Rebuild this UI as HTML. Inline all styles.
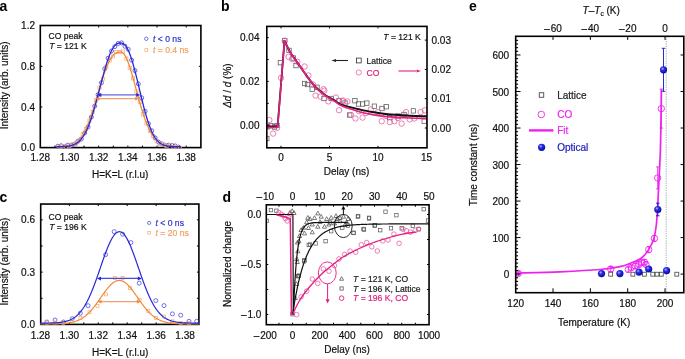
<!DOCTYPE html>
<html><head><meta charset="utf-8"><style>
html,body{margin:0;padding:0;background:#fff;}
svg{display:block;font-family:"Liberation Sans", sans-serif;filter:blur(0.3px);}
</style></head><body>
<svg width="685" height="359" viewBox="0 0 685 359">
<rect width="685" height="359" fill="#fff"/>
<rect x="40.3" y="25.5" width="160.6" height="122.1" fill="none" stroke="#000" stroke-width="1.6"/>
<line x1="54.89" y1="147.6" x2="54.89" y2="145.6" stroke="#000" stroke-width="1.0" />
<line x1="69.48" y1="147.6" x2="69.48" y2="145.6" stroke="#000" stroke-width="1.0" />
<line x1="84.07" y1="147.6" x2="84.07" y2="145.6" stroke="#000" stroke-width="1.0" />
<line x1="98.66" y1="147.6" x2="98.66" y2="145.6" stroke="#000" stroke-width="1.0" />
<line x1="113.25" y1="147.6" x2="113.25" y2="145.6" stroke="#000" stroke-width="1.0" />
<line x1="127.84" y1="147.6" x2="127.84" y2="145.6" stroke="#000" stroke-width="1.0" />
<line x1="142.43" y1="147.6" x2="142.43" y2="145.6" stroke="#000" stroke-width="1.0" />
<line x1="157.02" y1="147.6" x2="157.02" y2="145.6" stroke="#000" stroke-width="1.0" />
<line x1="171.61" y1="147.6" x2="171.61" y2="145.6" stroke="#000" stroke-width="1.0" />
<line x1="186.2" y1="147.6" x2="186.2" y2="145.6" stroke="#000" stroke-width="1.0" />
<line x1="69.48" y1="25.5" x2="69.48" y2="27.5" stroke="#000" stroke-width="1.0" />
<line x1="98.66" y1="25.5" x2="98.66" y2="27.5" stroke="#000" stroke-width="1.0" />
<line x1="127.84" y1="25.5" x2="127.84" y2="27.5" stroke="#000" stroke-width="1.0" />
<line x1="157.02" y1="25.5" x2="157.02" y2="27.5" stroke="#000" stroke-width="1.0" />
<line x1="186.2" y1="25.5" x2="186.2" y2="27.5" stroke="#000" stroke-width="1.0" />
<line x1="40.3" y1="106.96" x2="42.3" y2="106.96" stroke="#000" stroke-width="1.0" />
<line x1="40.3" y1="66.32" x2="42.3" y2="66.32" stroke="#000" stroke-width="1.0" />
<line x1="200.9" y1="106.96" x2="198.9" y2="106.96" stroke="#000" stroke-width="1.0" />
<line x1="200.9" y1="66.32" x2="198.9" y2="66.32" stroke="#000" stroke-width="1.0" />
<clipPath id="cp1"><rect x="39.3" y="24.5" width="162.6" height="124.1"/></clipPath><g clip-path="url(#cp1)">
<circle cx="57.81" cy="146.24" r="2" fill="none" stroke="#2828d8" stroke-width="0.7"/>
<circle cx="61.16" cy="145.76" r="2" fill="none" stroke="#2828d8" stroke-width="0.7"/>
<circle cx="64.52" cy="146.82" r="2" fill="none" stroke="#2828d8" stroke-width="0.7"/>
<circle cx="67.88" cy="145.12" r="2" fill="none" stroke="#2828d8" stroke-width="0.7"/>
<circle cx="71.23" cy="145.61" r="2" fill="none" stroke="#2828d8" stroke-width="0.7"/>
<circle cx="74.59" cy="144.03" r="2" fill="none" stroke="#2828d8" stroke-width="0.7"/>
<circle cx="77.94" cy="141.26" r="2" fill="none" stroke="#2828d8" stroke-width="0.7"/>
<circle cx="81.3" cy="139.05" r="2" fill="none" stroke="#2828d8" stroke-width="0.7"/>
<circle cx="84.65" cy="132.98" r="2" fill="none" stroke="#2828d8" stroke-width="0.7"/>
<circle cx="88.01" cy="126.99" r="2" fill="none" stroke="#2828d8" stroke-width="0.7"/>
<circle cx="91.36" cy="117.07" r="2" fill="none" stroke="#2828d8" stroke-width="0.7"/>
<circle cx="94.72" cy="106.14" r="2" fill="none" stroke="#2828d8" stroke-width="0.7"/>
<circle cx="98.08" cy="94.57" r="2" fill="none" stroke="#2828d8" stroke-width="0.7"/>
<circle cx="101.43" cy="82.66" r="2" fill="none" stroke="#2828d8" stroke-width="0.7"/>
<circle cx="104.79" cy="68.66" r="2" fill="none" stroke="#2828d8" stroke-width="0.7"/>
<circle cx="108.14" cy="58.23" r="2" fill="none" stroke="#2828d8" stroke-width="0.7"/>
<circle cx="111.5" cy="51.05" r="2" fill="none" stroke="#2828d8" stroke-width="0.7"/>
<circle cx="114.85" cy="46.63" r="2" fill="none" stroke="#2828d8" stroke-width="0.7"/>
<circle cx="118.21" cy="43.45" r="2" fill="none" stroke="#2828d8" stroke-width="0.7"/>
<circle cx="121.57" cy="42.85" r="2" fill="none" stroke="#2828d8" stroke-width="0.7"/>
<circle cx="124.92" cy="46.25" r="2" fill="none" stroke="#2828d8" stroke-width="0.7"/>
<circle cx="128.28" cy="49.36" r="2" fill="none" stroke="#2828d8" stroke-width="0.7"/>
<circle cx="131.63" cy="60.16" r="2" fill="none" stroke="#2828d8" stroke-width="0.7"/>
<circle cx="134.99" cy="70.59" r="2" fill="none" stroke="#2828d8" stroke-width="0.7"/>
<circle cx="138.34" cy="83.84" r="2" fill="none" stroke="#2828d8" stroke-width="0.7"/>
<circle cx="141.7" cy="97.79" r="2" fill="none" stroke="#2828d8" stroke-width="0.7"/>
<circle cx="145.06" cy="111.31" r="2" fill="none" stroke="#2828d8" stroke-width="0.7"/>
<circle cx="148.41" cy="123.63" r="2" fill="none" stroke="#2828d8" stroke-width="0.7"/>
<circle cx="151.77" cy="130.75" r="2" fill="none" stroke="#2828d8" stroke-width="0.7"/>
<circle cx="155.12" cy="137.89" r="2" fill="none" stroke="#2828d8" stroke-width="0.7"/>
<circle cx="158.48" cy="142.07" r="2" fill="none" stroke="#2828d8" stroke-width="0.7"/>
<circle cx="161.83" cy="143.86" r="2" fill="none" stroke="#2828d8" stroke-width="0.7"/>
<circle cx="165.19" cy="145.62" r="2" fill="none" stroke="#2828d8" stroke-width="0.7"/>
<circle cx="168.55" cy="145.13" r="2" fill="none" stroke="#2828d8" stroke-width="0.7"/>
<circle cx="171.9" cy="145.43" r="2" fill="none" stroke="#2828d8" stroke-width="0.7"/>
<circle cx="175.26" cy="145.92" r="2" fill="none" stroke="#2828d8" stroke-width="0.7"/>
<circle cx="178.61" cy="147.11" r="2" fill="none" stroke="#2828d8" stroke-width="0.7"/>
<rect x="57.67" y="145.01" width="3.2" height="3.2" fill="none" stroke="#f4a86a" stroke-width="0.7"/>
<rect x="61.02" y="144.54" width="3.2" height="3.2" fill="none" stroke="#f4a86a" stroke-width="0.7"/>
<rect x="64.38" y="145.09" width="3.2" height="3.2" fill="none" stroke="#f4a86a" stroke-width="0.7"/>
<rect x="67.73" y="144.12" width="3.2" height="3.2" fill="none" stroke="#f4a86a" stroke-width="0.7"/>
<rect x="71.09" y="142.59" width="3.2" height="3.2" fill="none" stroke="#f4a86a" stroke-width="0.7"/>
<rect x="74.45" y="142.19" width="3.2" height="3.2" fill="none" stroke="#f4a86a" stroke-width="0.7"/>
<rect x="77.8" y="138.85" width="3.2" height="3.2" fill="none" stroke="#f4a86a" stroke-width="0.7"/>
<rect x="81.16" y="132.89" width="3.2" height="3.2" fill="none" stroke="#f4a86a" stroke-width="0.7"/>
<rect x="84.51" y="127.48" width="3.2" height="3.2" fill="none" stroke="#f4a86a" stroke-width="0.7"/>
<rect x="87.87" y="119.06" width="3.2" height="3.2" fill="none" stroke="#f4a86a" stroke-width="0.7"/>
<rect x="91.22" y="110.18" width="3.2" height="3.2" fill="none" stroke="#f4a86a" stroke-width="0.7"/>
<rect x="94.58" y="98.71" width="3.2" height="3.2" fill="none" stroke="#f4a86a" stroke-width="0.7"/>
<rect x="97.94" y="86" width="3.2" height="3.2" fill="none" stroke="#f4a86a" stroke-width="0.7"/>
<rect x="101.29" y="77.26" width="3.2" height="3.2" fill="none" stroke="#f4a86a" stroke-width="0.7"/>
<rect x="104.65" y="65.27" width="3.2" height="3.2" fill="none" stroke="#f4a86a" stroke-width="0.7"/>
<rect x="108" y="58.82" width="3.2" height="3.2" fill="none" stroke="#f4a86a" stroke-width="0.7"/>
<rect x="111.36" y="54.83" width="3.2" height="3.2" fill="none" stroke="#f4a86a" stroke-width="0.7"/>
<rect x="114.71" y="50.29" width="3.2" height="3.2" fill="none" stroke="#f4a86a" stroke-width="0.7"/>
<rect x="118.07" y="50.4" width="3.2" height="3.2" fill="none" stroke="#f4a86a" stroke-width="0.7"/>
<rect x="121.43" y="49.95" width="3.2" height="3.2" fill="none" stroke="#f4a86a" stroke-width="0.7"/>
<rect x="124.78" y="57.01" width="3.2" height="3.2" fill="none" stroke="#f4a86a" stroke-width="0.7"/>
<rect x="128.14" y="66.12" width="3.2" height="3.2" fill="none" stroke="#f4a86a" stroke-width="0.7"/>
<rect x="131.49" y="76.79" width="3.2" height="3.2" fill="none" stroke="#f4a86a" stroke-width="0.7"/>
<rect x="134.85" y="90.01" width="3.2" height="3.2" fill="none" stroke="#f4a86a" stroke-width="0.7"/>
<rect x="138.2" y="100.5" width="3.2" height="3.2" fill="none" stroke="#f4a86a" stroke-width="0.7"/>
<rect x="141.56" y="112.71" width="3.2" height="3.2" fill="none" stroke="#f4a86a" stroke-width="0.7"/>
<rect x="144.92" y="121.8" width="3.2" height="3.2" fill="none" stroke="#f4a86a" stroke-width="0.7"/>
<rect x="148.27" y="129.23" width="3.2" height="3.2" fill="none" stroke="#f4a86a" stroke-width="0.7"/>
<rect x="151.63" y="134.46" width="3.2" height="3.2" fill="none" stroke="#f4a86a" stroke-width="0.7"/>
<rect x="154.98" y="139.59" width="3.2" height="3.2" fill="none" stroke="#f4a86a" stroke-width="0.7"/>
<rect x="158.34" y="142.59" width="3.2" height="3.2" fill="none" stroke="#f4a86a" stroke-width="0.7"/>
<rect x="161.69" y="142.89" width="3.2" height="3.2" fill="none" stroke="#f4a86a" stroke-width="0.7"/>
<rect x="165.05" y="144.51" width="3.2" height="3.2" fill="none" stroke="#f4a86a" stroke-width="0.7"/>
<rect x="168.41" y="143.3" width="3.2" height="3.2" fill="none" stroke="#f4a86a" stroke-width="0.7"/>
<rect x="171.76" y="145.56" width="3.2" height="3.2" fill="none" stroke="#f4a86a" stroke-width="0.7"/>
<rect x="175.12" y="145.57" width="3.2" height="3.2" fill="none" stroke="#f4a86a" stroke-width="0.7"/>
<rect x="178.47" y="146.7" width="3.2" height="3.2" fill="none" stroke="#f4a86a" stroke-width="0.7"/>
<polyline points="57,146.86 57.5,146.85 58,146.85 58.5,146.84 59,146.83 59.5,146.82 60,146.8 60.5,146.79 61,146.77 61.5,146.75 62,146.73 62.5,146.71 63,146.68 63.5,146.65 64,146.61 64.5,146.57 65,146.53 65.5,146.48 66,146.43 66.5,146.36 67,146.3 67.5,146.22 68,146.14 68.5,146.04 69,145.94 69.5,145.83 70,145.7 70.5,145.56 71,145.41 71.5,145.25 72,145.07 72.5,144.87 73,144.66 73.5,144.42 74,144.17 74.5,143.9 75,143.6 75.5,143.28 76,142.94 76.5,142.57 77,142.17 77.5,141.75 78,141.29 78.5,140.81 79,140.29 79.5,139.74 80,139.15 80.5,138.53 81,137.87 81.5,137.18 82,136.44 82.5,135.67 83,134.85 83.5,134 84,133.1 84.5,132.16 85,131.18 85.5,130.16 86,129.1 86.5,127.99 87,126.84 87.5,125.65 88,124.42 88.5,123.15 89,121.84 89.5,120.49 90,119.11 90.5,117.69 91,116.23 91.5,114.74 92,113.22 92.5,111.68 93,110.1 93.5,108.5 94,106.88 94.5,105.24 95,103.58 95.5,101.91 96,100.22 96.5,98.53 97,96.83 97.5,95.13 98,93.43 98.5,91.73 99,90.04 99.5,88.36 100,86.69 100.5,85.03 101,83.39 101.5,81.78 102,80.19 102.5,78.62 103,77.09 103.5,75.59 104,74.12 104.5,72.69 105,71.3 105.5,69.95 106,68.65 106.5,67.39 107,66.17 107.5,65.01 108,63.89 108.5,62.83 109,61.82 109.5,60.86 110,59.95 110.5,59.09 111,58.29 111.5,57.54 112,56.85 112.5,56.2 113,55.61 113.5,55.07 114,54.59 114.5,54.15 115,53.75 115.5,53.41 116,53.11 116.5,52.85 117,52.63 117.5,52.45 118,52.3 118.5,52.19 119,52.11 119.5,52.05 120,52.02 120.5,52 121,52 121.5,52.06 122,52.24 122.5,52.52 123,52.91 123.5,53.41 124,54 124.5,54.69 125,55.48 125.5,56.35 126,57.32 126.5,58.37 127,59.49 127.5,60.7 128,61.98 128.5,63.33 129,64.74 129.5,66.21 130,67.74 130.5,69.32 131,70.95 131.5,72.62 132,74.33 132.5,76.07 133,77.84 133.5,79.63 134,81.45 134.5,83.28 135,85.12 135.5,86.97 136,88.83 136.5,90.68 137,92.53 137.5,94.37 138,96.2 138.5,98.01 139,99.81 139.5,101.59 140,103.34 140.5,105.07 141,106.77 141.5,108.44 142,110.07 142.5,111.67 143,113.24 143.5,114.76 144,116.25 144.5,117.7 145,119.11 145.5,120.47 146,121.8 146.5,123.08 147,124.31 147.5,125.51 148,126.66 148.5,127.77 149,128.83 149.5,129.86 150,130.84 150.5,131.77 151,132.67 151.5,133.53 152,134.35 152.5,135.13 153,135.87 153.5,136.57 154,137.24 154.5,137.88 155,138.48 155.5,139.05 156,139.59 156.5,140.09 157,140.57 157.5,141.02 158,141.45 158.5,141.84 159,142.22 159.5,142.57 160,142.89 160.5,143.2 161,143.49 161.5,143.75 162,144 162.5,144.24 163,144.45 163.5,144.65 164,144.84 164.5,145.01 165,145.17 165.5,145.32 166,145.45 166.5,145.58 167,145.7 167.5,145.8 168,145.9 168.5,145.99 169,146.07 169.5,146.15 170,146.22 170.5,146.28 171,146.34 171.5,146.4 172,146.45 172.5,146.49 173,146.53 173.5,146.57 174,146.6 174.5,146.63 175,146.66 175.5,146.68 176,146.71 176.5,146.73 177,146.74 177.5,146.76 178,146.78 178.5,146.79 179,146.8 179.5,146.81 180,146.82 180.5,146.83" fill="none" stroke="#f0893a" stroke-width="1.3" stroke-linejoin="round" stroke-linecap="round" />
<polyline points="57,146.67 57.5,146.67 58,146.66 58.5,146.65 59,146.65 59.5,146.64 60,146.63 60.5,146.62 61,146.6 61.5,146.59 62,146.57 62.5,146.56 63,146.54 63.5,146.51 64,146.49 64.5,146.46 65,146.42 65.5,146.39 66,146.35 66.5,146.3 67,146.25 67.5,146.19 68,146.13 68.5,146.06 69,145.98 69.5,145.89 70,145.8 70.5,145.69 71,145.58 71.5,145.45 72,145.31 72.5,145.16 73,144.99 73.5,144.81 74,144.61 74.5,144.39 75,144.15 75.5,143.9 76,143.62 76.5,143.32 77,143 77.5,142.65 78,142.27 78.5,141.87 79,141.44 79.5,140.97 80,140.48 80.5,139.95 81,139.39 81.5,138.78 82,138.15 82.5,137.47 83,136.75 83.5,136 84,135.2 84.5,134.35 85,133.47 85.5,132.53 86,131.55 86.5,130.53 87,129.46 87.5,128.34 88,127.17 88.5,125.96 89,124.7 89.5,123.39 90,122.03 90.5,120.63 91,119.18 91.5,117.69 92,116.16 92.5,114.58 93,112.97 93.5,111.31 94,109.62 94.5,107.89 95,106.13 95.5,104.34 96,102.52 96.5,100.68 97,98.82 97.5,96.94 98,95.04 98.5,93.13 99,91.21 99.5,89.29 100,87.36 100.5,85.44 101,83.52 101.5,81.61 102,79.72 102.5,77.84 103,75.98 103.5,74.15 104,72.34 104.5,70.57 105,68.83 105.5,67.13 106,65.47 106.5,63.85 107,62.29 107.5,60.77 108,59.31 108.5,57.9 109,56.55 109.5,55.26 110,54.03 110.5,52.87 111,51.77 111.5,50.74 112,49.77 112.5,48.87 113,48.04 113.5,47.28 114,46.58 114.5,45.96 115,45.39 115.5,44.9 116,44.47 116.5,44.09 117,43.78 117.5,43.53 118,43.33 118.5,43.19 119,43.08 119.5,43.03 120,43 120.5,43 121,43.03 121.5,43.09 122,43.2 122.5,43.37 123,43.6 123.5,43.89 124,44.25 124.5,44.69 125,45.19 125.5,45.77 126,46.43 126.5,47.17 127,47.99 127.5,48.89 128,49.87 128.5,50.93 129,52.06 129.5,53.28 130,54.57 130.5,55.94 131,57.37 131.5,58.88 132,60.46 132.5,62.1 133,63.8 133.5,65.56 134,67.37 134.5,69.23 135,71.13 135.5,73.08 136,75.06 136.5,77.07 137,79.11 137.5,81.18 138,83.26 138.5,85.35 139,87.45 139.5,89.55 140,91.65 140.5,93.74 141,95.82 141.5,97.88 142,99.93 142.5,101.95 143,103.94 143.5,105.9 144,107.83 144.5,109.72 145,111.56 145.5,113.36 146,115.12 146.5,116.83 147,118.48 147.5,120.09 148,121.64 148.5,123.13 149,124.57 149.5,125.96 150,127.28 150.5,128.55 151,129.76 151.5,130.92 152,132.02 152.5,133.07 153,134.06 153.5,135 154,135.88 154.5,136.72 155,137.5 155.5,138.24 156,138.93 156.5,139.58 157,140.18 157.5,140.74 158,141.27 158.5,141.75 159,142.2 159.5,142.62 160,143 160.5,143.35 161,143.68 161.5,143.98 162,144.25 162.5,144.5 163,144.73 163.5,144.93 164,145.12 164.5,145.29 165,145.45 165.5,145.59 166,145.71 166.5,145.83 167,145.93 167.5,146.02 168,146.1 168.5,146.17 169,146.24 169.5,146.29 170,146.35 170.5,146.39 171,146.43 171.5,146.47 172,146.5 172.5,146.52 173,146.55 173.5,146.57 174,146.59 174.5,146.6 175,146.62 175.5,146.63 176,146.64 176.5,146.65 177,146.66 177.5,146.66 178,146.67 178.5,146.67 179,146.68 179.5,146.68 180,146.68 180.5,146.69" fill="none" stroke="#2828d8" stroke-width="1.3" stroke-linejoin="round" stroke-linecap="round" />
<line x1="99.5" y1="94.9" x2="138" y2="94.9" stroke="#6464e6" stroke-width="1.3" />
<polygon points="97.3,94.9 101.3,92.9 101.3,96.9" fill="#2828d8" stroke="none"/>
<polygon points="140.2,94.9 136.2,96.9 136.2,92.9" fill="#2828d8" stroke="none"/>
<line x1="97.8" y1="98.6" x2="137" y2="98.6" stroke="#f2a070" stroke-width="1.3" />
<polygon points="95.4,98.6 99.4,96.7 99.4,100.5" fill="#f0893a" stroke="none"/>
<polygon points="139.2,98.6 135.2,100.5 135.2,96.7" fill="#f0893a" stroke="none"/>
</g>
<text x="35" y="151.2" font-size="10" text-anchor="end" fill="#111" stroke="#111" stroke-width="0.2" font-weight="normal" >0.0</text>
<text x="35" y="110.56" font-size="10" text-anchor="end" fill="#111" stroke="#111" stroke-width="0.2" font-weight="normal" >0.4</text>
<text x="35" y="69.92" font-size="10" text-anchor="end" fill="#111" stroke="#111" stroke-width="0.2" font-weight="normal" >0.8</text>
<text x="35" y="29.28" font-size="10" text-anchor="end" fill="#111" stroke="#111" stroke-width="0.2" font-weight="normal" >1.2</text>
<text x="40.3" y="161.2" font-size="10" text-anchor="middle" fill="#111" stroke="#111" stroke-width="0.2" font-weight="normal" >1.28</text>
<text x="69.48" y="161.2" font-size="10" text-anchor="middle" fill="#111" stroke="#111" stroke-width="0.2" font-weight="normal" >1.30</text>
<text x="98.66" y="161.2" font-size="10" text-anchor="middle" fill="#111" stroke="#111" stroke-width="0.2" font-weight="normal" >1.32</text>
<text x="127.84" y="161.2" font-size="10" text-anchor="middle" fill="#111" stroke="#111" stroke-width="0.2" font-weight="normal" >1.34</text>
<text x="157.02" y="161.2" font-size="10" text-anchor="middle" fill="#111" stroke="#111" stroke-width="0.2" font-weight="normal" >1.36</text>
<text x="186.2" y="161.2" font-size="10" text-anchor="middle" fill="#111" stroke="#111" stroke-width="0.2" font-weight="normal" >1.38</text>
<text x="120.2" y="178.1" font-size="10" text-anchor="middle" fill="#111" stroke="#111" stroke-width="0.2" font-weight="normal" >H=K=L (r.l.u)</text>
<text transform="translate(7.8,85.4) rotate(-90)" font-size="10" text-anchor="middle" fill="#111" stroke="#111" stroke-width="0.2">Intensity (arb. units)</text>
<text x="48.6" y="39" font-size="8.6" text-anchor="start" fill="#111" stroke="#111" stroke-width="0.2" font-weight="normal" >CO peak</text>
<text x="49.2" y="49.1" font-size="8.6" text-anchor="start" fill="#111" stroke="#111" stroke-width="0.2" font-weight="normal" ><tspan font-style="italic">T</tspan> = 121 K</text>
<circle cx="146.3" cy="38.8" r="1.7" fill="none" stroke="#5050d8" stroke-width="0.8"/>
<text x="153" y="41.6" font-size="8.6" text-anchor="start" fill="#3030cc" stroke="#3030cc" stroke-width="0.2" font-weight="normal" ><tspan font-style="italic">t</tspan> &lt; 0 ns</text>
<rect x="144.95" y="48.65" width="2.7" height="2.7" fill="none" stroke="#f4a86a" stroke-width="0.7"/>
<text x="153" y="52.9" font-size="8.6" text-anchor="start" fill="#f0a060" stroke="#f0a060" stroke-width="0.2" font-weight="normal" ><tspan font-style="italic">t</tspan> = 0.4 ns</text>
<text x="-0.6" y="10.5" font-size="14" text-anchor="start" fill="#000" stroke="#000" stroke-width="0" font-weight="bold" >a</text>
<rect x="40.7" y="204.05" width="158.2" height="120.35" fill="none" stroke="#000" stroke-width="1.6"/>
<line x1="54.87" y1="324.4" x2="54.87" y2="322.4" stroke="#000" stroke-width="1.0" />
<line x1="69.34" y1="324.4" x2="69.34" y2="322.4" stroke="#000" stroke-width="1.0" />
<line x1="83.81" y1="324.4" x2="83.81" y2="322.4" stroke="#000" stroke-width="1.0" />
<line x1="98.28" y1="324.4" x2="98.28" y2="322.4" stroke="#000" stroke-width="1.0" />
<line x1="112.75" y1="324.4" x2="112.75" y2="322.4" stroke="#000" stroke-width="1.0" />
<line x1="127.22" y1="324.4" x2="127.22" y2="322.4" stroke="#000" stroke-width="1.0" />
<line x1="141.69" y1="324.4" x2="141.69" y2="322.4" stroke="#000" stroke-width="1.0" />
<line x1="156.16" y1="324.4" x2="156.16" y2="322.4" stroke="#000" stroke-width="1.0" />
<line x1="170.63" y1="324.4" x2="170.63" y2="322.4" stroke="#000" stroke-width="1.0" />
<line x1="185.1" y1="324.4" x2="185.1" y2="322.4" stroke="#000" stroke-width="1.0" />
<line x1="69.34" y1="204.05" x2="69.34" y2="206.05" stroke="#000" stroke-width="1.0" />
<line x1="98.28" y1="204.05" x2="98.28" y2="206.05" stroke="#000" stroke-width="1.0" />
<line x1="127.22" y1="204.05" x2="127.22" y2="206.05" stroke="#000" stroke-width="1.0" />
<line x1="156.16" y1="204.05" x2="156.16" y2="206.05" stroke="#000" stroke-width="1.0" />
<line x1="185.1" y1="204.05" x2="185.1" y2="206.05" stroke="#000" stroke-width="1.0" />
<line x1="40.7" y1="298.25" x2="42.7" y2="298.25" stroke="#000" stroke-width="1.0" />
<line x1="40.7" y1="272.11" x2="42.7" y2="272.11" stroke="#000" stroke-width="1.0" />
<line x1="40.7" y1="245.96" x2="42.7" y2="245.96" stroke="#000" stroke-width="1.0" />
<line x1="40.7" y1="219.82" x2="42.7" y2="219.82" stroke="#000" stroke-width="1.0" />
<line x1="198.9" y1="298.25" x2="196.9" y2="298.25" stroke="#000" stroke-width="1.0" />
<line x1="198.9" y1="272.11" x2="196.9" y2="272.11" stroke="#000" stroke-width="1.0" />
<line x1="198.9" y1="245.96" x2="196.9" y2="245.96" stroke="#000" stroke-width="1.0" />
<line x1="198.9" y1="219.82" x2="196.9" y2="219.82" stroke="#000" stroke-width="1.0" />
<clipPath id="cp2"><rect x="39.7" y="203.05" width="159.2" height="122.35"/></clipPath><g clip-path="url(#cp2)">
<circle cx="46.8" cy="322" r="2" fill="none" stroke="#3a3ad8" stroke-width="0.7"/>
<circle cx="55" cy="320" r="2" fill="none" stroke="#3a3ad8" stroke-width="0.7"/>
<circle cx="63.4" cy="322" r="2" fill="none" stroke="#3a3ad8" stroke-width="0.7"/>
<circle cx="72.2" cy="318.7" r="2" fill="none" stroke="#3a3ad8" stroke-width="0.7"/>
<circle cx="80.4" cy="313.2" r="2" fill="none" stroke="#3a3ad8" stroke-width="0.7"/>
<circle cx="88.1" cy="305.7" r="2" fill="none" stroke="#3a3ad8" stroke-width="0.7"/>
<circle cx="105.6" cy="254.6" r="2" fill="none" stroke="#3a3ad8" stroke-width="0.7"/>
<circle cx="114.2" cy="231.7" r="2" fill="none" stroke="#3a3ad8" stroke-width="0.7"/>
<circle cx="122.6" cy="234.2" r="2" fill="none" stroke="#3a3ad8" stroke-width="0.7"/>
<circle cx="130.9" cy="242.5" r="2" fill="none" stroke="#3a3ad8" stroke-width="0.7"/>
<circle cx="139.2" cy="283.2" r="2" fill="none" stroke="#3a3ad8" stroke-width="0.7"/>
<circle cx="155.8" cy="300.6" r="2" fill="none" stroke="#3a3ad8" stroke-width="0.7"/>
<circle cx="164" cy="305.6" r="2" fill="none" stroke="#3a3ad8" stroke-width="0.7"/>
<circle cx="172.4" cy="313.9" r="2" fill="none" stroke="#3a3ad8" stroke-width="0.7"/>
<circle cx="180.7" cy="315.2" r="2" fill="none" stroke="#3a3ad8" stroke-width="0.7"/>
<circle cx="189" cy="321.3" r="2" fill="none" stroke="#3a3ad8" stroke-width="0.7"/>
<circle cx="196.7" cy="321.3" r="2" fill="none" stroke="#3a3ad8" stroke-width="0.7"/>
<rect x="45.3" y="321.3" width="3" height="3" fill="none" stroke="#f4a86a" stroke-width="0.7"/>
<rect x="53.5" y="321" width="3" height="3" fill="none" stroke="#f4a86a" stroke-width="0.7"/>
<rect x="61.9" y="321.5" width="3" height="3" fill="none" stroke="#f4a86a" stroke-width="0.7"/>
<rect x="70.7" y="320" width="3" height="3" fill="none" stroke="#f4a86a" stroke-width="0.7"/>
<rect x="78.9" y="316.5" width="3" height="3" fill="none" stroke="#f4a86a" stroke-width="0.7"/>
<rect x="88" y="310.8" width="3" height="3" fill="none" stroke="#f4a86a" stroke-width="0.7"/>
<rect x="96" y="304.5" width="3" height="3" fill="none" stroke="#f4a86a" stroke-width="0.7"/>
<rect x="104.5" y="292.9" width="3" height="3" fill="none" stroke="#f4a86a" stroke-width="0.7"/>
<rect x="113.5" y="276.5" width="3" height="3" fill="none" stroke="#f4a86a" stroke-width="0.7"/>
<rect x="121.1" y="276.5" width="3" height="3" fill="none" stroke="#f4a86a" stroke-width="0.7"/>
<rect x="128.5" y="286.5" width="3" height="3" fill="none" stroke="#f4a86a" stroke-width="0.7"/>
<rect x="138" y="298.5" width="3" height="3" fill="none" stroke="#f4a86a" stroke-width="0.7"/>
<rect x="146.8" y="309.5" width="3" height="3" fill="none" stroke="#f4a86a" stroke-width="0.7"/>
<rect x="154.5" y="316.5" width="3" height="3" fill="none" stroke="#f4a86a" stroke-width="0.7"/>
<rect x="162.5" y="315.1" width="3" height="3" fill="none" stroke="#f4a86a" stroke-width="0.7"/>
<rect x="170.9" y="319.8" width="3" height="3" fill="none" stroke="#f4a86a" stroke-width="0.7"/>
<rect x="179.2" y="321.5" width="3" height="3" fill="none" stroke="#f4a86a" stroke-width="0.7"/>
<rect x="187.5" y="321.7" width="3" height="3" fill="none" stroke="#f4a86a" stroke-width="0.7"/>
<polyline points="40.5,324 41,323.99 41.5,323.99 42,323.99 42.5,323.99 43,323.99 43.5,323.99 44,323.99 44.5,323.99 45,323.99 45.5,323.99 46,323.98 46.5,323.98 47,323.98 47.5,323.98 48,323.98 48.5,323.97 49,323.97 49.5,323.97 50,323.96 50.5,323.96 51,323.95 51.5,323.95 52,323.94 52.5,323.94 53,323.93 53.5,323.93 54,323.92 54.5,323.91 55,323.9 55.5,323.89 56,323.88 56.5,323.87 57,323.86 57.5,323.84 58,323.83 58.5,323.81 59,323.79 59.5,323.77 60,323.75 60.5,323.73 61,323.71 61.5,323.68 62,323.65 62.5,323.62 63,323.59 63.5,323.55 64,323.52 64.5,323.47 65,323.43 65.5,323.38 66,323.33 66.5,323.28 67,323.22 67.5,323.16 68,323.09 68.5,323.02 69,322.95 69.5,322.86 70,322.78 70.5,322.69 71,322.59 71.5,322.49 72,322.38 72.5,322.26 73,322.14 73.5,322 74,321.87 74.5,321.72 75,321.57 75.5,321.4 76,321.23 76.5,321.05 77,320.86 77.5,320.66 78,320.45 78.5,320.22 79,319.99 79.5,319.75 80,319.49 80.5,319.23 81,318.95 81.5,318.66 82,318.35 82.5,318.03 83,317.71 83.5,317.36 84,317.01 84.5,316.63 85,316.25 85.5,315.85 86,315.44 86.5,315.01 87,314.57 87.5,314.12 88,313.65 88.5,313.16 89,312.66 89.5,312.15 90,311.62 90.5,311.08 91,310.53 91.5,309.96 92,309.38 92.5,308.79 93,308.18 93.5,307.56 94,306.93 94.5,306.29 95,305.64 95.5,304.98 96,304.31 96.5,303.63 97,302.94 97.5,302.25 98,301.55 98.5,300.84 99,300.13 99.5,299.42 100,298.7 100.5,297.99 101,297.27 101.5,296.55 102,295.83 102.5,295.12 103,294.41 103.5,293.7 104,293 104.5,292.31 105,291.63 105.5,290.96 106,290.29 106.5,289.64 107,289 107.5,288.38 108,287.77 108.5,287.18 109,286.61 109.5,286.06 110,285.52 110.5,285.01 111,284.52 111.5,284.06 112,283.61 112.5,283.2 113,282.81 113.5,282.44 114,282.11 114.5,281.8 115,281.52 115.5,281.27 116,281.05 116.5,280.87 117,280.71 117.5,280.59 118,280.49 118.5,280.43 119,280.4 119.5,280.41 120,280.44 120.5,280.51 121,280.61 121.5,280.74 122,280.9 122.5,281.1 123,281.32 123.5,281.57 124,281.86 124.5,282.17 125,282.51 125.5,282.88 126,283.28 126.5,283.7 127,284.15 127.5,284.62 128,285.11 128.5,285.63 129,286.17 129.5,286.72 130,287.3 130.5,287.89 131,288.5 131.5,289.13 132,289.77 132.5,290.42 133,291.09 133.5,291.76 134,292.45 134.5,293.14 135,293.84 135.5,294.55 136,295.26 136.5,295.98 137,296.69 137.5,297.41 138,298.13 138.5,298.85 139,299.56 139.5,300.28 140,300.99 140.5,301.69 141,302.39 141.5,303.08 142,303.77 142.5,304.44 143,305.11 143.5,305.77 144,306.42 144.5,307.06 145,307.69 145.5,308.3 146,308.91 146.5,309.5 147,310.07 147.5,310.64 148,311.19 148.5,311.73 149,312.25 149.5,312.76 150,313.26 150.5,313.74 151,314.21 151.5,314.66 152,315.1 152.5,315.52 153,315.93 153.5,316.33 154,316.71 154.5,317.08 155,317.43 155.5,317.77 156,318.1 156.5,318.41 157,318.71 157.5,319 158,319.28 158.5,319.54 159,319.8 159.5,320.04 160,320.27 160.5,320.49 161,320.7 161.5,320.9 162,321.09 162.5,321.26 163,321.44 163.5,321.6 164,321.75 164.5,321.89 165,322.03 165.5,322.16 166,322.28 166.5,322.4 167,322.51 167.5,322.61 168,322.71 168.5,322.8 169,322.88 169.5,322.96 170,323.04 170.5,323.11 171,323.17 171.5,323.23 172,323.29 172.5,323.34 173,323.39 173.5,323.44 174,323.48 174.5,323.52 175,323.56 175.5,323.6 176,323.63 176.5,323.66 177,323.69 177.5,323.71 178,323.74 178.5,323.76 179,323.78 179.5,323.8 180,323.81 180.5,323.83 181,323.85 181.5,323.86 182,323.87 182.5,323.88 183,323.89 183.5,323.9 184,323.91 184.5,323.92 185,323.93 185.5,323.93 186,323.94 186.5,323.95 187,323.95 187.5,323.96 188,323.96 188.5,323.96 189,323.97 189.5,323.97 190,323.97 190.5,323.98 191,323.98 191.5,323.98 192,323.98 192.5,323.98 193,323.99 193.5,323.99 194,323.99 194.5,323.99 195,323.99 195.5,323.99 196,323.99 196.5,323.99 197,323.99 197.5,323.99 198,324 198.5,324 199,324" fill="none" stroke="#f0893a" stroke-width="1.2" stroke-linejoin="round" stroke-linecap="round" />
<polyline points="40.5,323.08 41,323.08 41.5,323.08 42,323.08 42.5,323.07 43,323.07 43.5,323.07 44,323.07 44.5,323.06 45,323.06 45.5,323.05 46,323.05 46.5,323.04 47,323.04 47.5,323.03 48,323.02 48.5,323.01 49,323 49.5,322.99 50,322.98 50.5,322.97 51,322.96 51.5,322.95 52,322.93 52.5,322.91 53,322.9 53.5,322.88 54,322.86 54.5,322.83 55,322.81 55.5,322.78 56,322.75 56.5,322.72 57,322.68 57.5,322.65 58,322.61 58.5,322.56 59,322.52 59.5,322.47 60,322.41 60.5,322.35 61,322.29 61.5,322.22 62,322.15 62.5,322.07 63,321.98 63.5,321.89 64,321.8 64.5,321.69 65,321.58 65.5,321.47 66,321.34 66.5,321.2 67,321.06 67.5,320.91 68,320.75 68.5,320.57 69,320.39 69.5,320.19 70,319.99 70.5,319.77 71,319.54 71.5,319.29 72,319.03 72.5,318.76 73,318.47 73.5,318.16 74,317.84 74.5,317.5 75,317.14 75.5,316.77 76,316.37 76.5,315.96 77,315.52 77.5,315.07 78,314.59 78.5,314.09 79,313.57 79.5,313.02 80,312.45 80.5,311.86 81,311.24 81.5,310.6 82,309.93 82.5,309.24 83,308.51 83.5,307.76 84,306.99 84.5,306.18 85,305.35 85.5,304.49 86,303.61 86.5,302.69 87,301.75 87.5,300.77 88,299.77 88.5,298.74 89,297.69 89.5,296.6 90,295.49 90.5,294.36 91,293.19 91.5,292 92,290.79 92.5,289.55 93,288.29 93.5,287.01 94,285.7 94.5,284.37 95,283.03 95.5,281.67 96,280.29 96.5,278.89 97,277.48 97.5,276.06 98,274.63 98.5,273.19 99,271.74 99.5,270.29 100,268.83 100.5,267.37 101,265.91 101.5,264.46 102,263.01 102.5,261.56 103,260.13 103.5,258.7 104,257.29 104.5,255.89 105,254.52 105.5,253.16 106,251.82 106.5,250.51 107,249.23 107.5,247.98 108,246.76 108.5,245.57 109,244.42 109.5,243.3 110,242.23 110.5,241.2 111,240.21 111.5,239.27 112,238.38 112.5,237.53 113,236.74 113.5,236 114,235.32 114.5,234.69 115,234.12 115.5,233.61 116,233.15 116.5,232.76 117,232.43 117.5,232.16 118,231.95 118.5,231.8 119,231.72 119.5,231.7 120,231.75 120.5,231.85 121,232.02 121.5,232.26 122,232.55 122.5,232.91 123,233.33 123.5,233.8 124,234.34 124.5,234.93 125,235.58 125.5,236.29 126,237.05 126.5,237.86 127,238.73 127.5,239.64 128,240.6 128.5,241.6 129,242.65 129.5,243.74 130,244.87 130.5,246.04 131,247.24 131.5,248.48 132,249.74 132.5,251.04 133,252.36 133.5,253.7 134,255.07 134.5,256.45 135,257.85 135.5,259.27 136,260.7 136.5,262.14 137,263.59 137.5,265.04 138,266.5 138.5,267.95 139,269.41 139.5,270.87 140,272.32 140.5,273.77 141,275.2 141.5,276.63 142,278.05 142.5,279.45 143,280.84 143.5,282.21 144,283.57 144.5,284.91 145,286.22 145.5,287.52 146,288.8 146.5,290.05 147,291.28 147.5,292.48 148,293.66 148.5,294.81 149,295.94 149.5,297.04 150,298.11 150.5,299.16 151,300.18 151.5,301.16 152,302.13 152.5,303.06 153,303.96 153.5,304.84 154,305.69 154.5,306.51 155,307.3 155.5,308.07 156,308.81 156.5,309.52 157,310.2 157.5,310.86 158,311.49 158.5,312.1 159,312.68 159.5,313.24 160,313.78 160.5,314.29 161,314.78 161.5,315.25 162,315.7 162.5,316.12 163,316.53 163.5,316.92 164,317.29 164.5,317.64 165,317.97 165.5,318.28 166,318.58 166.5,318.87 167,319.14 167.5,319.39 168,319.63 168.5,319.86 169,320.07 169.5,320.27 170,320.46 170.5,320.64 171,320.81 171.5,320.97 172,321.12 172.5,321.26 173,321.39 173.5,321.51 174,321.63 174.5,321.74 175,321.84 175.5,321.93 176,322.02 176.5,322.1 177,322.18 177.5,322.25 178,322.31 178.5,322.38 179,322.43 179.5,322.49 180,322.54 180.5,322.58 181,322.62 181.5,322.66 182,322.7 182.5,322.73 183,322.76 183.5,322.79 184,322.82 184.5,322.84 185,322.86 185.5,322.88 186,322.9 186.5,322.92 187,322.94 187.5,322.95 188,322.97 188.5,322.98 189,322.99 189.5,323 190,323.01 190.5,323.02 191,323.02 191.5,323.03 192,323.04 192.5,323.04 193,323.05 193.5,323.05 194,323.06 194.5,323.06 195,323.07 195.5,323.07 196,323.07 196.5,323.08 197,323.08 197.5,323.08 198,323.08 198.5,323.08 199,323.09" fill="none" stroke="#2828d8" stroke-width="1.2" stroke-linejoin="round" stroke-linecap="round" />
<line x1="99.2" y1="278.4" x2="139.6" y2="278.4" stroke="#4848e0" stroke-width="1.2" />
<polygon points="97,278.4 101,276.4 101,280.4" fill="#2828d8" stroke="none"/>
<polygon points="141.8,278.4 137.8,280.4 137.8,276.4" fill="#2828d8" stroke="none"/>
<line x1="99.7" y1="301.7" x2="138.7" y2="301.7" stroke="#f2a070" stroke-width="1.3" />
<polygon points="97.5,301.7 101.5,299.8 101.5,303.6" fill="#f0893a" stroke="none"/>
<polygon points="140.9,301.7 136.9,303.6 136.9,299.8" fill="#f0893a" stroke="none"/>
</g>
<text x="35" y="328" font-size="10" text-anchor="end" fill="#111" stroke="#111" stroke-width="0.2" font-weight="normal" >0.0</text>
<text x="35" y="275.71" font-size="10" text-anchor="end" fill="#111" stroke="#111" stroke-width="0.2" font-weight="normal" >0.3</text>
<text x="35" y="223.42" font-size="10" text-anchor="end" fill="#111" stroke="#111" stroke-width="0.2" font-weight="normal" >0.6</text>
<text x="40.4" y="339" font-size="10" text-anchor="middle" fill="#111" stroke="#111" stroke-width="0.2" font-weight="normal" >1.28</text>
<text x="69.34" y="339" font-size="10" text-anchor="middle" fill="#111" stroke="#111" stroke-width="0.2" font-weight="normal" >1.30</text>
<text x="98.28" y="339" font-size="10" text-anchor="middle" fill="#111" stroke="#111" stroke-width="0.2" font-weight="normal" >1.32</text>
<text x="127.22" y="339" font-size="10" text-anchor="middle" fill="#111" stroke="#111" stroke-width="0.2" font-weight="normal" >1.34</text>
<text x="156.16" y="339" font-size="10" text-anchor="middle" fill="#111" stroke="#111" stroke-width="0.2" font-weight="normal" >1.36</text>
<text x="185.1" y="339" font-size="10" text-anchor="middle" fill="#111" stroke="#111" stroke-width="0.2" font-weight="normal" >1.38</text>
<text x="120.2" y="356" font-size="10" text-anchor="middle" fill="#111" stroke="#111" stroke-width="0.2" font-weight="normal" >H=K=L (r.l.u)</text>
<text transform="translate(7.8,261.7) rotate(-90)" font-size="10" text-anchor="middle" fill="#111" stroke="#111" stroke-width="0.2">Intensity (arb. units)</text>
<text x="48.6" y="220.1" font-size="8.6" text-anchor="start" fill="#111" stroke="#111" stroke-width="0.2" font-weight="normal" >CO peak</text>
<text x="49.2" y="230.2" font-size="8.6" text-anchor="start" fill="#111" stroke="#111" stroke-width="0.2" font-weight="normal" ><tspan font-style="italic">T</tspan> = 196 K</text>
<circle cx="149.2" cy="222.9" r="1.6" fill="none" stroke="#5050d8" stroke-width="0.8"/>
<text x="155.5" y="226" font-size="8.6" text-anchor="start" fill="#3030cc" stroke="#3030cc" stroke-width="0.2" font-weight="normal" ><tspan font-style="italic">t</tspan> &lt; 0 ns</text>
<rect x="147.9" y="231.5" width="2.6" height="2.6" fill="none" stroke="#f4a86a" stroke-width="0.7"/>
<text x="155.5" y="235.6" font-size="8.6" text-anchor="start" fill="#f0a060" stroke="#f0a060" stroke-width="0.2" font-weight="normal" ><tspan font-style="italic">t</tspan> = 20 ns</text>
<text x="-0.6" y="201.5" font-size="14" text-anchor="start" fill="#000" stroke="#000" stroke-width="0" font-weight="bold" >c</text>
<clipPath id="cp3"><rect x="266.8" y="26.4" width="160.2" height="121.4"/></clipPath><g clip-path="url(#cp3)">
<rect x="265.3" y="124.3" width="4.4" height="4.4" fill="none" stroke="#5a5a5a" stroke-width="0.75"/>
<rect x="268.8" y="123.6" width="4.4" height="4.4" fill="none" stroke="#5a5a5a" stroke-width="0.75"/>
<rect x="272.3" y="124.8" width="4.4" height="4.4" fill="none" stroke="#5a5a5a" stroke-width="0.75"/>
<rect x="274.8" y="123.3" width="4.4" height="4.4" fill="none" stroke="#5a5a5a" stroke-width="0.75"/>
<rect x="264.6" y="136.3" width="4.4" height="4.4" fill="none" stroke="#5a5a5a" stroke-width="0.75"/>
<rect x="278.2" y="60.5" width="4.4" height="4.4" fill="none" stroke="#5a5a5a" stroke-width="0.75"/>
<rect x="282.5" y="38.4" width="4.4" height="4.4" fill="none" stroke="#5a5a5a" stroke-width="0.75"/>
<rect x="286.8" y="48.2" width="4.4" height="4.4" fill="none" stroke="#5a5a5a" stroke-width="0.75"/>
<rect x="291" y="55.8" width="4.4" height="4.4" fill="none" stroke="#5a5a5a" stroke-width="0.75"/>
<rect x="293.8" y="63.4" width="4.4" height="4.4" fill="none" stroke="#5a5a5a" stroke-width="0.75"/>
<rect x="302.4" y="81.3" width="4.4" height="4.4" fill="none" stroke="#5a5a5a" stroke-width="0.75"/>
<rect x="305.3" y="82.3" width="4.4" height="4.4" fill="none" stroke="#5a5a5a" stroke-width="0.75"/>
<rect x="310" y="87" width="4.4" height="4.4" fill="none" stroke="#5a5a5a" stroke-width="0.75"/>
<rect x="314.8" y="85.1" width="4.4" height="4.4" fill="none" stroke="#5a5a5a" stroke-width="0.75"/>
<rect x="321.8" y="96.3" width="4.4" height="4.4" fill="none" stroke="#5a5a5a" stroke-width="0.75"/>
<rect x="329" y="96.3" width="4.4" height="4.4" fill="none" stroke="#5a5a5a" stroke-width="0.75"/>
<rect x="336.8" y="98.3" width="4.4" height="4.4" fill="none" stroke="#5a5a5a" stroke-width="0.75"/>
<rect x="347.5" y="112.8" width="4.4" height="4.4" fill="none" stroke="#5a5a5a" stroke-width="0.75"/>
<rect x="352.7" y="98.5" width="4.4" height="4.4" fill="none" stroke="#5a5a5a" stroke-width="0.75"/>
<rect x="356.3" y="101.8" width="4.4" height="4.4" fill="none" stroke="#5a5a5a" stroke-width="0.75"/>
<rect x="360.4" y="101.8" width="4.4" height="4.4" fill="none" stroke="#5a5a5a" stroke-width="0.75"/>
<rect x="364.6" y="100.9" width="4.4" height="4.4" fill="none" stroke="#5a5a5a" stroke-width="0.75"/>
<rect x="372.2" y="104" width="4.4" height="4.4" fill="none" stroke="#5a5a5a" stroke-width="0.75"/>
<rect x="379.8" y="106.3" width="4.4" height="4.4" fill="none" stroke="#5a5a5a" stroke-width="0.75"/>
<rect x="384" y="104.5" width="4.4" height="4.4" fill="none" stroke="#5a5a5a" stroke-width="0.75"/>
<rect x="387.6" y="115.4" width="4.4" height="4.4" fill="none" stroke="#5a5a5a" stroke-width="0.75"/>
<rect x="411.2" y="108.7" width="4.4" height="4.4" fill="none" stroke="#5a5a5a" stroke-width="0.75"/>
<rect x="422" y="119" width="4.4" height="4.4" fill="none" stroke="#5a5a5a" stroke-width="0.75"/>
<rect x="395.8" y="113.8" width="4.4" height="4.4" fill="none" stroke="#5a5a5a" stroke-width="0.75"/>
<rect x="401.8" y="112.3" width="4.4" height="4.4" fill="none" stroke="#5a5a5a" stroke-width="0.75"/>
<rect x="342.8" y="100.8" width="4.4" height="4.4" fill="none" stroke="#5a5a5a" stroke-width="0.75"/>
<circle cx="267.8" cy="126.8" r="2.7" fill="none" stroke="#e8559e" stroke-width="0.75"/>
<circle cx="269.4" cy="120" r="2.7" fill="none" stroke="#e8559e" stroke-width="0.75"/>
<circle cx="273.1" cy="133.6" r="2.7" fill="none" stroke="#e8559e" stroke-width="0.75"/>
<circle cx="277.2" cy="127.8" r="2.7" fill="none" stroke="#e8559e" stroke-width="0.75"/>
<circle cx="281" cy="77.9" r="2.7" fill="none" stroke="#e8559e" stroke-width="0.75"/>
<circle cx="284.7" cy="40.6" r="2.7" fill="none" stroke="#e8559e" stroke-width="0.75"/>
<circle cx="288.5" cy="57" r="2.7" fill="none" stroke="#e8559e" stroke-width="0.75"/>
<circle cx="292" cy="59" r="2.7" fill="none" stroke="#e8559e" stroke-width="0.75"/>
<circle cx="297.4" cy="61.8" r="2.7" fill="none" stroke="#e8559e" stroke-width="0.75"/>
<circle cx="304.6" cy="66.5" r="2.7" fill="none" stroke="#e8559e" stroke-width="0.75"/>
<circle cx="308.4" cy="75.4" r="2.7" fill="none" stroke="#e8559e" stroke-width="0.75"/>
<circle cx="313.1" cy="84.5" r="2.7" fill="none" stroke="#e8559e" stroke-width="0.75"/>
<circle cx="323.5" cy="89.2" r="2.7" fill="none" stroke="#e8559e" stroke-width="0.75"/>
<circle cx="315.6" cy="95.6" r="2.7" fill="none" stroke="#e8559e" stroke-width="0.75"/>
<circle cx="320.5" cy="96.6" r="2.7" fill="none" stroke="#e8559e" stroke-width="0.75"/>
<circle cx="324.4" cy="90.7" r="2.7" fill="none" stroke="#e8559e" stroke-width="0.75"/>
<circle cx="328.3" cy="101.4" r="2.7" fill="none" stroke="#e8559e" stroke-width="0.75"/>
<circle cx="336" cy="97.5" r="2.7" fill="none" stroke="#e8559e" stroke-width="0.75"/>
<circle cx="339" cy="110.2" r="2.7" fill="none" stroke="#e8559e" stroke-width="0.75"/>
<circle cx="342.9" cy="100.5" r="2.7" fill="none" stroke="#e8559e" stroke-width="0.75"/>
<circle cx="347.4" cy="101.4" r="2.7" fill="none" stroke="#e8559e" stroke-width="0.75"/>
<circle cx="342.7" cy="101.3" r="2.7" fill="none" stroke="#e8559e" stroke-width="0.75"/>
<circle cx="350.9" cy="114.9" r="2.7" fill="none" stroke="#e8559e" stroke-width="0.75"/>
<circle cx="355.4" cy="118.5" r="2.7" fill="none" stroke="#e8559e" stroke-width="0.75"/>
<circle cx="359" cy="111.2" r="2.7" fill="none" stroke="#e8559e" stroke-width="0.75"/>
<circle cx="362.6" cy="117.6" r="2.7" fill="none" stroke="#e8559e" stroke-width="0.75"/>
<circle cx="370.8" cy="109.4" r="2.7" fill="none" stroke="#e8559e" stroke-width="0.75"/>
<circle cx="378" cy="112.1" r="2.7" fill="none" stroke="#e8559e" stroke-width="0.75"/>
<circle cx="381.7" cy="121.2" r="2.7" fill="none" stroke="#e8559e" stroke-width="0.75"/>
<circle cx="389.8" cy="122.1" r="2.7" fill="none" stroke="#e8559e" stroke-width="0.75"/>
<circle cx="394.3" cy="121.2" r="2.7" fill="none" stroke="#e8559e" stroke-width="0.75"/>
<circle cx="401.6" cy="123.6" r="2.7" fill="none" stroke="#e8559e" stroke-width="0.75"/>
<circle cx="406.1" cy="112.1" r="2.7" fill="none" stroke="#e8559e" stroke-width="0.75"/>
<circle cx="409.7" cy="119.4" r="2.7" fill="none" stroke="#e8559e" stroke-width="0.75"/>
<circle cx="414.3" cy="118.5" r="2.7" fill="none" stroke="#e8559e" stroke-width="0.75"/>
<circle cx="420.6" cy="112.1" r="2.7" fill="none" stroke="#e8559e" stroke-width="0.75"/>
<circle cx="424.8" cy="110.3" r="2.7" fill="none" stroke="#e8559e" stroke-width="0.75"/>
<circle cx="366" cy="113" r="2.7" fill="none" stroke="#e8559e" stroke-width="0.75"/>
<circle cx="386" cy="116" r="2.7" fill="none" stroke="#e8559e" stroke-width="0.75"/>
<circle cx="398" cy="118" r="2.7" fill="none" stroke="#e8559e" stroke-width="0.75"/>
<polyline points="266.6,126.4 277.6,126.4 284.5,40.8" fill="none" stroke="#111" stroke-width="1.8" stroke-linejoin="round" stroke-linecap="round" />
<path d="M284.5,40.8 C285.42,42.67 287.85,48.38 290,52 C292.15,55.62 294.9,58.92 297.4,62.5 C299.9,66.08 302.07,69.5 305,73.5 C307.93,77.5 311.83,83.05 315,86.5 C318.17,89.95 320.67,91.82 324,94.2 C327.33,96.58 332.33,99.17 335,100.8 C337.67,102.43 337.5,102.93 340,104 C342.5,105.07 346.67,106.27 350,107.2 C353.33,108.13 356.67,108.87 360,109.6 C363.33,110.33 366.67,111 370,111.6 C373.33,112.2 375.83,112.67 380,113.2 C384.17,113.73 390,114.37 395,114.8 C400,115.23 404.73,115.55 410,115.8 C415.27,116.05 423.83,116.22 426.6,116.3" fill="none" stroke="#111" stroke-width="1.9" stroke-linejoin="round" stroke-linecap="round" />
<polyline points="266.6,127.2 277.6,127.2 284.5,40.8" fill="none" stroke="#e31e80" stroke-width="1.6" stroke-linejoin="round" stroke-linecap="round" />
<path d="M284.5,40.8 C285.42,42.67 287.85,48.38 290,52 C292.15,55.62 294.9,58.92 297.4,62.5 C299.9,66.08 302.07,69.5 305,73.5 C307.93,77.5 311.83,82.98 315,86.5 C318.17,90.02 320.67,92.1 324,94.6 C327.33,97.1 332.33,99.78 335,101.5 C337.67,103.22 337.5,103.68 340,104.9 C342.5,106.12 346.67,107.62 350,108.8 C353.33,109.98 356.67,111.1 360,112 C363.33,112.9 366.67,113.57 370,114.2 C373.33,114.83 375.83,115.3 380,115.8 C384.17,116.3 390,116.83 395,117.2 C400,117.57 404.73,117.78 410,118 C415.27,118.22 423.83,118.42 426.6,118.5" fill="none" stroke="#e31e80" stroke-width="1.7" stroke-linejoin="round" stroke-linecap="round" />
</g>
<rect x="266.8" y="26.4" width="160.2" height="121.4" fill="none" stroke="#000" stroke-width="1.6"/>
<line x1="281" y1="147.8" x2="281" y2="145.8" stroke="#000" stroke-width="1.0" />
<line x1="329.5" y1="147.8" x2="329.5" y2="145.8" stroke="#000" stroke-width="1.0" />
<line x1="378" y1="147.8" x2="378" y2="145.8" stroke="#000" stroke-width="1.0" />
<line x1="281" y1="26.4" x2="281" y2="28.4" stroke="#000" stroke-width="1.0" />
<line x1="329.5" y1="26.4" x2="329.5" y2="28.4" stroke="#000" stroke-width="1.0" />
<line x1="378" y1="26.4" x2="378" y2="28.4" stroke="#000" stroke-width="1.0" />
<line x1="266.8" y1="37.58" x2="268.8" y2="37.58" stroke="#000" stroke-width="1.0" />
<line x1="266.8" y1="59.51" x2="268.8" y2="59.51" stroke="#000" stroke-width="1.0" />
<line x1="266.8" y1="81.44" x2="268.8" y2="81.44" stroke="#000" stroke-width="1.0" />
<line x1="266.8" y1="103.37" x2="268.8" y2="103.37" stroke="#000" stroke-width="1.0" />
<line x1="266.8" y1="125.3" x2="268.8" y2="125.3" stroke="#000" stroke-width="1.0" />
<line x1="427" y1="40.1" x2="424.8" y2="40.1" stroke="#000" stroke-width="1.0" />
<line x1="427" y1="69.4" x2="424.8" y2="69.4" stroke="#000" stroke-width="1.0" />
<line x1="427" y1="98.7" x2="424.8" y2="98.7" stroke="#000" stroke-width="1.0" />
<line x1="427" y1="128" x2="424.8" y2="128" stroke="#000" stroke-width="1.0" />
<text x="259.5" y="41.18" font-size="10" text-anchor="end" fill="#111" stroke="#111" stroke-width="0.2" font-weight="normal" >0.04</text>
<text x="259.5" y="85.04" font-size="10" text-anchor="end" fill="#111" stroke="#111" stroke-width="0.2" font-weight="normal" >0.02</text>
<text x="259.5" y="128.9" font-size="10" text-anchor="end" fill="#111" stroke="#111" stroke-width="0.2" font-weight="normal" >0.00</text>
<text x="431.5" y="43.7" font-size="10" text-anchor="start" fill="#111" stroke="#111" stroke-width="0.2" font-weight="normal" >0.03</text>
<text x="431.5" y="73" font-size="10" text-anchor="start" fill="#111" stroke="#111" stroke-width="0.2" font-weight="normal" >0.02</text>
<text x="431.5" y="102.3" font-size="10" text-anchor="start" fill="#111" stroke="#111" stroke-width="0.2" font-weight="normal" >0.01</text>
<text x="431.5" y="131.6" font-size="10" text-anchor="start" fill="#111" stroke="#111" stroke-width="0.2" font-weight="normal" >0.00</text>
<text x="281" y="161.2" font-size="10" text-anchor="middle" fill="#111" stroke="#111" stroke-width="0.2" font-weight="normal" >0</text>
<text x="329.5" y="161.2" font-size="10" text-anchor="middle" fill="#111" stroke="#111" stroke-width="0.2" font-weight="normal" >5</text>
<text x="378" y="161.2" font-size="10" text-anchor="middle" fill="#111" stroke="#111" stroke-width="0.2" font-weight="normal" >10</text>
<text x="426.5" y="161.2" font-size="10" text-anchor="middle" fill="#111" stroke="#111" stroke-width="0.2" font-weight="normal" >15</text>
<text x="346.5" y="174.8" font-size="10" text-anchor="middle" fill="#111" stroke="#111" stroke-width="0.2" font-weight="normal" >Delay (ns)</text>
<text transform="translate(230.8,85.6) rotate(-90)" font-size="10" text-anchor="middle" fill="#111" stroke="#111" stroke-width="0.2"><tspan font-style="italic">Δd</tspan> / <tspan font-style="italic">d</tspan> (%)</text>
<text x="420.8" y="39.6" font-size="8.6" text-anchor="end" fill="#111" stroke="#111" stroke-width="0.2" font-weight="normal" ><tspan font-style="italic">T</tspan> = 121 K</text>
<line x1="336" y1="60.5" x2="348" y2="60.5" stroke="#222" stroke-width="1.1" />
<polygon points="331.5,60.5 336,58.9 336,62.1" fill="#222" stroke="none"/>
<rect x="356.4" y="58.1" width="4.8" height="4.8" fill="none" stroke="#333" stroke-width="0.8"/>
<text x="366.5" y="63.5" font-size="8.6" text-anchor="start" fill="#222" stroke="#222" stroke-width="0.2" font-weight="normal" >Lattice</text>
<circle cx="358.8" cy="72.5" r="2.6" fill="none" stroke="#e8559e" stroke-width="0.75"/>
<text x="366.5" y="75.8" font-size="8.6" text-anchor="start" fill="#e31e80" stroke="#e31e80" stroke-width="0.2" font-weight="normal" >CO</text>
<line x1="398.5" y1="71" x2="416" y2="71" stroke="#e31e80" stroke-width="1.1" />
<polygon points="421,71 416.5,72.6 416.5,69.4" fill="#e31e80" stroke="none"/>
<text x="221" y="10.8" font-size="14" text-anchor="start" fill="#000" stroke="#000" stroke-width="0" font-weight="bold" >b</text>
<clipPath id="cp4"><rect x="266.3" y="204.8" width="162.75" height="119.9"/></clipPath><g clip-path="url(#cp4)">
<polygon points="292.2,208.73 290.1,212.51 294.3,212.51" fill="none" stroke="#444" stroke-width="0.7"/>
<polygon points="307.8,215.53 305.7,219.31 309.9,219.31" fill="none" stroke="#444" stroke-width="0.7"/>
<polygon points="317.8,211.13 315.7,214.91 319.9,214.91" fill="none" stroke="#444" stroke-width="0.7"/>
<polygon points="321.2,214.43 319.1,218.21 323.3,218.21" fill="none" stroke="#444" stroke-width="0.7"/>
<polygon points="326.7,216.73 324.6,220.51 328.8,220.51" fill="none" stroke="#444" stroke-width="0.7"/>
<polygon points="331.2,215.53 329.1,219.31 333.3,219.31" fill="none" stroke="#444" stroke-width="0.7"/>
<polygon points="336.8,216.73 334.7,220.51 338.9,220.51" fill="none" stroke="#444" stroke-width="0.7"/>
<polygon points="343.5,214.43 341.4,218.21 345.6,218.21" fill="none" stroke="#444" stroke-width="0.7"/>
<polygon points="312.3,222.23 310.2,226.01 314.4,226.01" fill="none" stroke="#444" stroke-width="0.7"/>
<polygon points="317.8,224.43 315.7,228.21 319.9,228.21" fill="none" stroke="#444" stroke-width="0.7"/>
<polygon points="306.7,220.03 304.6,223.81 308.8,223.81" fill="none" stroke="#444" stroke-width="0.7"/>
<polygon points="303.4,225.53 301.3,229.31 305.5,229.31" fill="none" stroke="#444" stroke-width="0.7"/>
<polygon points="301.1,227.73 299,231.51 303.2,231.51" fill="none" stroke="#444" stroke-width="0.7"/>
<polygon points="304.5,231.13 302.4,234.91 306.6,234.91" fill="none" stroke="#444" stroke-width="0.7"/>
<polygon points="312.3,230.03 310.2,233.81 314.4,233.81" fill="none" stroke="#444" stroke-width="0.7"/>
<polygon points="324.5,224.43 322.4,228.21 326.6,228.21" fill="none" stroke="#444" stroke-width="0.7"/>
<polygon points="329,222.23 326.9,226.01 331.1,226.01" fill="none" stroke="#444" stroke-width="0.7"/>
<polygon points="334.5,221.13 332.4,224.91 336.6,224.91" fill="none" stroke="#444" stroke-width="0.7"/>
<polygon points="340.1,218.93 338,222.71 342.2,222.71" fill="none" stroke="#444" stroke-width="0.7"/>
<polygon points="346.8,220.03 344.7,223.81 348.9,223.81" fill="none" stroke="#444" stroke-width="0.7"/>
<polygon points="298.9,238.93 296.8,242.71 301,242.71" fill="none" stroke="#444" stroke-width="0.7"/>
<polygon points="297.8,248.93 295.7,252.71 299.9,252.71" fill="none" stroke="#444" stroke-width="0.7"/>
<polygon points="296.7,256.73 294.6,260.51 298.8,260.51" fill="none" stroke="#444" stroke-width="0.7"/>
<polygon points="297.8,273.43 295.7,277.21 299.9,277.21" fill="none" stroke="#444" stroke-width="0.7"/>
<polygon points="297.5,240.23 295.4,244.01 299.6,244.01" fill="none" stroke="#444" stroke-width="0.7"/>
<polygon points="297.2,259.73 295.1,263.51 299.3,263.51" fill="none" stroke="#444" stroke-width="0.7"/>
<polygon points="296.5,281.73 294.4,285.51 298.6,285.51" fill="none" stroke="#444" stroke-width="0.7"/>
<polygon points="295.3,295.73 293.2,299.51 297.4,299.51" fill="none" stroke="#444" stroke-width="0.7"/>
<polygon points="310,216.73 307.9,220.51 312.1,220.51" fill="none" stroke="#444" stroke-width="0.7"/>
<polygon points="314.5,215.73 312.4,219.51 316.6,219.51" fill="none" stroke="#444" stroke-width="0.7"/>
<polygon points="320,219.73 317.9,223.51 322.1,223.51" fill="none" stroke="#444" stroke-width="0.7"/>
<polygon points="336,213.73 333.9,217.51 338.1,217.51" fill="none" stroke="#444" stroke-width="0.7"/>
<polygon points="340,215.73 337.9,219.51 342.1,219.51" fill="none" stroke="#444" stroke-width="0.7"/>
<polygon points="348,216.73 345.9,220.51 350.1,220.51" fill="none" stroke="#444" stroke-width="0.7"/>
<polygon points="345,222.73 342.9,226.51 347.1,226.51" fill="none" stroke="#444" stroke-width="0.7"/>
<polygon points="299.5,233.73 297.4,237.51 301.6,237.51" fill="none" stroke="#444" stroke-width="0.7"/>
<polygon points="308.5,225.73 306.4,229.51 310.6,229.51" fill="none" stroke="#444" stroke-width="0.7"/>
<polygon points="294,210.73 291.9,214.51 296.1,214.51" fill="none" stroke="#444" stroke-width="0.7"/>
<polygon points="290,210.33 287.9,214.11 292.1,214.11" fill="none" stroke="#444" stroke-width="0.7"/>
<rect x="356.2" y="215" width="3.4" height="3.4" fill="none" stroke="#555" stroke-width="0.7"/>
<rect x="367.3" y="216.1" width="3.4" height="3.4" fill="none" stroke="#555" stroke-width="0.7"/>
<rect x="372.9" y="223.9" width="3.4" height="3.4" fill="none" stroke="#555" stroke-width="0.7"/>
<rect x="361.8" y="227.3" width="3.4" height="3.4" fill="none" stroke="#555" stroke-width="0.7"/>
<rect x="351.8" y="231.3" width="3.4" height="3.4" fill="none" stroke="#555" stroke-width="0.7"/>
<rect x="329.5" y="229.5" width="3.4" height="3.4" fill="none" stroke="#555" stroke-width="0.7"/>
<rect x="323.9" y="239.5" width="3.4" height="3.4" fill="none" stroke="#555" stroke-width="0.7"/>
<rect x="313.9" y="241.7" width="3.4" height="3.4" fill="none" stroke="#555" stroke-width="0.7"/>
<rect x="308.3" y="242.8" width="3.4" height="3.4" fill="none" stroke="#555" stroke-width="0.7"/>
<rect x="340.6" y="226.1" width="3.4" height="3.4" fill="none" stroke="#555" stroke-width="0.7"/>
<rect x="346.2" y="223.9" width="3.4" height="3.4" fill="none" stroke="#555" stroke-width="0.7"/>
<rect x="302.8" y="258.4" width="3.4" height="3.4" fill="none" stroke="#555" stroke-width="0.7"/>
<rect x="297.2" y="274" width="3.4" height="3.4" fill="none" stroke="#555" stroke-width="0.7"/>
<rect x="307.05" y="243.3" width="3.4" height="3.4" fill="none" stroke="#555" stroke-width="0.7"/>
<rect x="302.55" y="259.55" width="3.4" height="3.4" fill="none" stroke="#555" stroke-width="0.7"/>
<rect x="296.3" y="274.55" width="3.4" height="3.4" fill="none" stroke="#555" stroke-width="0.7"/>
<rect x="290.8" y="312.55" width="3.4" height="3.4" fill="none" stroke="#555" stroke-width="0.7"/>
<rect x="356.5" y="214.3" width="3.4" height="3.4" fill="none" stroke="#555" stroke-width="0.7"/>
<rect x="367.4" y="216.8" width="3.4" height="3.4" fill="none" stroke="#555" stroke-width="0.7"/>
<rect x="383.8" y="210" width="3.4" height="3.4" fill="none" stroke="#555" stroke-width="0.7"/>
<rect x="394.7" y="213.5" width="3.4" height="3.4" fill="none" stroke="#555" stroke-width="0.7"/>
<rect x="422" y="207.5" width="3.4" height="3.4" fill="none" stroke="#555" stroke-width="0.7"/>
<rect x="426.3" y="218.8" width="3.4" height="3.4" fill="none" stroke="#555" stroke-width="0.7"/>
<rect x="351.8" y="231" width="3.4" height="3.4" fill="none" stroke="#555" stroke-width="0.7"/>
<rect x="362.3" y="227.9" width="3.4" height="3.4" fill="none" stroke="#555" stroke-width="0.7"/>
<rect x="373.3" y="223.6" width="3.4" height="3.4" fill="none" stroke="#555" stroke-width="0.7"/>
<rect x="378.5" y="228.5" width="3.4" height="3.4" fill="none" stroke="#555" stroke-width="0.7"/>
<rect x="389.3" y="226.6" width="3.4" height="3.4" fill="none" stroke="#555" stroke-width="0.7"/>
<rect x="400" y="226.6" width="3.4" height="3.4" fill="none" stroke="#555" stroke-width="0.7"/>
<rect x="411.1" y="224" width="3.4" height="3.4" fill="none" stroke="#555" stroke-width="0.7"/>
<rect x="416.9" y="227.5" width="3.4" height="3.4" fill="none" stroke="#555" stroke-width="0.7"/>
<rect x="269.2" y="208.4" width="3.4" height="3.4" fill="none" stroke="#555" stroke-width="0.7"/>
<rect x="274.7" y="209" width="3.4" height="3.4" fill="none" stroke="#555" stroke-width="0.7"/>
<rect x="265.1" y="219.1" width="3.4" height="3.4" fill="none" stroke="#555" stroke-width="0.7"/>
<rect x="328.3" y="220.8" width="3.4" height="3.4" fill="none" stroke="#555" stroke-width="0.7"/>
<circle cx="296.7" cy="314.6" r="2.3" fill="none" stroke="#e8559e" stroke-width="0.75"/>
<circle cx="301.1" cy="296.8" r="2.3" fill="none" stroke="#e8559e" stroke-width="0.75"/>
<circle cx="306.7" cy="291.2" r="2.3" fill="none" stroke="#e8559e" stroke-width="0.75"/>
<circle cx="312.3" cy="279" r="2.3" fill="none" stroke="#e8559e" stroke-width="0.75"/>
<circle cx="317.8" cy="283.4" r="2.3" fill="none" stroke="#e8559e" stroke-width="0.75"/>
<circle cx="323.4" cy="268.9" r="2.3" fill="none" stroke="#e8559e" stroke-width="0.75"/>
<circle cx="329" cy="271.2" r="2.3" fill="none" stroke="#e8559e" stroke-width="0.75"/>
<circle cx="334.5" cy="265.6" r="2.3" fill="none" stroke="#e8559e" stroke-width="0.75"/>
<circle cx="339" cy="258.9" r="2.3" fill="none" stroke="#e8559e" stroke-width="0.75"/>
<circle cx="344.6" cy="254.5" r="2.3" fill="none" stroke="#e8559e" stroke-width="0.75"/>
<circle cx="350.1" cy="251.1" r="2.3" fill="none" stroke="#e8559e" stroke-width="0.75"/>
<circle cx="355.7" cy="252.2" r="2.3" fill="none" stroke="#e8559e" stroke-width="0.75"/>
<circle cx="361.3" cy="244.8" r="2.3" fill="none" stroke="#e8559e" stroke-width="0.75"/>
<circle cx="366.6" cy="242.5" r="2.3" fill="none" stroke="#e8559e" stroke-width="0.75"/>
<circle cx="371.8" cy="246.8" r="2.3" fill="none" stroke="#e8559e" stroke-width="0.75"/>
<circle cx="377.3" cy="251" r="2.3" fill="none" stroke="#e8559e" stroke-width="0.75"/>
<circle cx="382.7" cy="240.9" r="2.3" fill="none" stroke="#e8559e" stroke-width="0.75"/>
<circle cx="388" cy="240" r="2.3" fill="none" stroke="#e8559e" stroke-width="0.75"/>
<circle cx="393.9" cy="234.1" r="2.3" fill="none" stroke="#e8559e" stroke-width="0.75"/>
<circle cx="399.1" cy="243.3" r="2.3" fill="none" stroke="#e8559e" stroke-width="0.75"/>
<circle cx="403" cy="229.2" r="2.3" fill="none" stroke="#e8559e" stroke-width="0.75"/>
<circle cx="406.5" cy="230.8" r="2.3" fill="none" stroke="#e8559e" stroke-width="0.75"/>
<circle cx="410.4" cy="232.2" r="2.3" fill="none" stroke="#e8559e" stroke-width="0.75"/>
<circle cx="415.3" cy="230.2" r="2.3" fill="none" stroke="#e8559e" stroke-width="0.75"/>
<circle cx="418.6" cy="229.2" r="2.3" fill="none" stroke="#e8559e" stroke-width="0.75"/>
<circle cx="278.8" cy="212.5" r="2.3" fill="none" stroke="#e8559e" stroke-width="0.75"/>
<circle cx="281.3" cy="214.2" r="2.3" fill="none" stroke="#e8559e" stroke-width="0.75"/>
<circle cx="283.6" cy="215.8" r="2.3" fill="none" stroke="#e8559e" stroke-width="0.75"/>
<circle cx="285.2" cy="218.5" r="2.3" fill="none" stroke="#e8559e" stroke-width="0.75"/>
<circle cx="287.2" cy="221" r="2.3" fill="none" stroke="#e8559e" stroke-width="0.75"/>
<circle cx="288.8" cy="217.5" r="2.3" fill="none" stroke="#e8559e" stroke-width="0.75"/>
<circle cx="290.3" cy="214" r="2.3" fill="none" stroke="#e8559e" stroke-width="0.75"/>
<line x1="266.2" y1="214.5" x2="292.6" y2="214.5" stroke="#111" stroke-width="1.2" />
<polyline points="292.9,214.5 293.3,314.5 293.8,302.56 294.3,292.16 294.8,283.12 295.3,275.24 295.8,268.39 296.3,262.43 296.8,257.24 297.3,252.72 297.8,248.79 298.3,245.37 298.8,242.39 299.3,239.8 299.8,237.54 300.3,235.58 300.8,233.87 301.3,232.38 301.8,231.09 302.3,229.96 302.8,228.98 303.3,228.13 303.8,227.38 304.3,226.74 304.8,226.18 305.3,225.69 305.8,225.26 306.3,224.89 306.8,224.57 307.3,224.29 307.8,224.04 308.3,223.83 308.8,223.64 309.3,223.48 309.8,223.34 310.3,223.22 310.8,223.11 311.3,223.02 311.8,222.94 312.3,222.87 312.8,222.81 313.3,222.76 313.8,222.71 314.3,222.67 314.8,222.63 315.3,222.6 315.8,222.58 316.3,222.55 316.8,222.53 317.3,222.52 317.8,222.5 318.3,222.49 318.8,222.48 319.3,222.47 319.8,222.46 320.3,222.45 320.8,222.44 321.3,222.44 321.8,222.43 322.3,222.43 322.8,222.43 323.3,222.42 323.8,222.42 324.3,222.42 324.8,222.41 325.3,222.41 325.8,222.41 326.3,222.41 326.8,222.41 327.3,222.41 327.8,222.41 328.3,222.41 328.8,222.4 329.3,222.4 329.8,222.4 330.3,222.4 330.8,222.4 331.3,222.4 331.8,222.4 332.3,222.4 332.8,222.4 333.3,222.4 333.8,222.4 334.3,222.4 334.8,222.4 335.3,222.4 335.8,222.4 336.3,222.4 336.8,222.4 337.3,222.4 337.8,222.4 338.3,222.4 338.8,222.4 339.3,222.4 339.8,222.4 340.3,222.4 340.8,222.4 341.3,222.4 341.8,222.4 342.3,222.4 342.8,222.4 343.3,222.4 343.8,222.4 344.3,222.4 344.8,222.4 345.3,222.4 345.8,222.4 346.3,222.4 346.8,222.4 347.3,222.4" fill="none" stroke="#111" stroke-width="1.2" stroke-linejoin="round" stroke-linecap="round" />
<polyline points="292.6,314.5 293.1,311.21 293.6,308.03 294.1,304.97 294.6,302.02 295.1,299.18 295.6,296.45 296.1,293.81 296.6,291.27 297.1,288.82 297.6,286.46 298.1,284.18 298.6,281.99 299.1,279.88 299.6,277.84 300.1,275.88 300.6,273.99 301.1,272.17 301.6,270.42 302.1,268.72 302.6,267.09 303.1,265.52 303.6,264.01 304.1,262.55 304.6,261.15 305.1,259.79 305.6,258.49 306.1,257.23 306.6,256.02 307.1,254.85 307.6,253.72 308.1,252.64 308.6,251.6 309.1,250.59 309.6,249.62 310.1,248.68 310.6,247.78 311.1,246.91 311.6,246.08 312.1,245.27 312.6,244.49 313.1,243.74 313.6,243.02 314.1,242.33 314.6,241.66 315.1,241.01 315.6,240.39 316.1,239.79 316.6,239.21 317.1,238.66 317.6,238.12 318.1,237.6 318.6,237.1 319.1,236.62 319.6,236.16 320.1,235.72 320.6,235.29 321.1,234.87 321.6,234.47 322.1,234.09 322.6,233.72 323.1,233.36 323.6,233.02 324.1,232.69 324.6,232.37 325.1,232.06 325.6,231.76 326.1,231.48 326.6,231.2 327.1,230.94 327.6,230.68 328.1,230.43 328.6,230.2 329.1,229.97 329.6,229.75 330.1,229.53 330.6,229.33 331.1,229.13 331.6,228.94 332.1,228.76 332.6,228.58 333.1,228.41 333.6,228.25 334.1,228.09 334.6,227.94 335.1,227.79 335.6,227.65 336.1,227.51 336.6,227.38 337.1,227.25 337.6,227.13 338.1,227.01 338.6,226.9 339.1,226.79 339.6,226.69 340.1,226.59 340.6,226.49 341.1,226.39 341.6,226.3 342.1,226.22 342.6,226.13 343.1,226.05 343.6,225.97 344.1,225.9 344.6,225.82 345.1,225.75 345.6,225.69 346.1,225.62 346.6,225.56 347.1,225.5 347.6,225.44 348.1,225.38 348.6,225.33 349.1,225.28 349.6,225.23 350.1,225.18 350.6,225.13 351.1,225.09 351.6,225.05 352.1,225 352.6,224.96 353.1,224.93 353.6,224.89 354.1,224.85 354.6,224.82 355.1,224.78 355.6,224.75 356.1,224.72 356.6,224.69 357.1,224.66 357.6,224.63 358.1,224.61 358.6,224.58 359.1,224.56 359.6,224.53 360.1,224.51 360.6,224.49 361.1,224.47 361.6,224.45 362.1,224.43 362.6,224.41 363.1,224.39 363.6,224.37 364.1,224.35 364.6,224.34 365.1,224.32 365.6,224.31 366.1,224.29 366.6,224.28 367.1,224.26 367.6,224.25 368.1,224.24 368.6,224.23 369.1,224.21 369.6,224.2 370.1,224.19 370.6,224.18 371.1,224.17 371.6,224.16 372.1,224.15 372.6,224.14 373.1,224.13 373.6,224.12 374.1,224.12 374.6,224.11 375.1,224.1 375.6,224.09 376.1,224.09 376.6,224.08 377.1,224.07 377.6,224.07 378.1,224.06 378.6,224.06 379.1,224.05 379.6,224.04 380.1,224.04 380.6,224.03 381.1,224.03 381.6,224.02 382.1,224.02 382.6,224.02 383.1,224.01 383.6,224.01 384.1,224 384.6,224 385.1,224 385.6,223.99 386.1,223.99 386.6,223.99 387.1,223.98 387.6,223.98 388.1,223.98 388.6,223.97 389.1,223.97 389.6,223.97 390.1,223.97 390.6,223.96 391.1,223.96 391.6,223.96 392.1,223.96 392.6,223.95 393.1,223.95 393.6,223.95 394.1,223.95 394.6,223.95 395.1,223.95 395.6,223.94 396.1,223.94 396.6,223.94 397.1,223.94 397.6,223.94 398.1,223.94 398.6,223.94 399.1,223.93 399.6,223.93 400.1,223.93 400.6,223.93 401.1,223.93 401.6,223.93 402.1,223.93 402.6,223.93 403.1,223.93 403.6,223.92 404.1,223.92 404.6,223.92 405.1,223.92 405.6,223.92 406.1,223.92 406.6,223.92 407.1,223.92 407.6,223.92 408.1,223.92 408.6,223.92 409.1,223.92 409.6,223.92 410.1,223.92 410.6,223.91 411.1,223.91 411.6,223.91 412.1,223.91 412.6,223.91 413.1,223.91 413.6,223.91 414.1,223.91 414.6,223.91 415.1,223.91 415.6,223.91 416.1,223.91 416.6,223.91 417.1,223.91 417.6,223.91 418.1,223.91 418.6,223.91 419.1,223.91 419.6,223.91 420.1,223.91 420.6,223.91 421.1,223.91 421.6,223.91 422.1,223.91 422.6,223.91 423.1,223.91 423.6,223.91 424.1,223.91 424.6,223.91 425.1,223.9 425.6,223.9 426.1,223.9 426.6,223.9 427.1,223.9 427.6,223.9 428.1,223.9 428.6,223.9" fill="none" stroke="#111" stroke-width="1.2" stroke-linejoin="round" stroke-linecap="round" />
<polyline points="277,215 284,216.6 290.3,218.6 291.4,314.5" fill="none" stroke="#e31e80" stroke-width="1.5" stroke-linejoin="round" stroke-linecap="round" />
<path d="M292.6,314.5 C293.05,313.52 294.23,310.77 295.3,308.6 C296.37,306.43 297.68,303.77 299,301.5 C300.32,299.23 301.45,297.42 303.2,295 C304.95,292.58 307.28,289.62 309.5,287 C311.72,284.38 314.25,281.67 316.5,279.3 C318.75,276.93 320.8,274.82 323,272.8 C325.2,270.78 327.45,269.03 329.7,267.2 C331.95,265.37 334.28,263.5 336.5,261.8 C338.72,260.1 340.83,258.42 343,257 C345.17,255.58 347.3,254.47 349.5,253.3 C351.7,252.13 353.98,251.05 356.2,250 C358.42,248.95 360.6,247.97 362.8,247 C365,246.03 367.2,245.08 369.4,244.2 C371.6,243.32 373.78,242.48 376,241.7 C378.22,240.92 380.48,240.2 382.7,239.5 C384.92,238.8 387.1,238.13 389.3,237.5 C391.5,236.87 393.7,236.25 395.9,235.7 C398.1,235.15 400.3,234.65 402.5,234.2 C404.7,233.75 406.88,233.35 409.1,233 C411.32,232.65 414.68,232.25 415.8,232.1" fill="none" stroke="#e31e80" stroke-width="1.3" stroke-linejoin="round" stroke-linecap="round" />
<ellipse cx="343.3" cy="226" rx="8.9" ry="11.6" fill="none" stroke="#111" stroke-width="0.9"/>
<line x1="343.4" y1="214.4" x2="343.4" y2="209" stroke="#111" stroke-width="1.0" />
<polygon points="343.4,205.6 345.4,209.4 341.4,209.4" fill="#111" stroke="none"/>
<ellipse cx="327.3" cy="272.9" rx="8.9" ry="11" fill="none" stroke="#e31e80" stroke-width="0.9"/>
<line x1="327.6" y1="283.9" x2="327.6" y2="299.5" stroke="#e31e80" stroke-width="1.0" />
<polygon points="327.6,303.6 325.5,299.3 329.7,299.3" fill="#e31e80" stroke="none"/>
</g>
<rect x="266.3" y="204.8" width="162.75" height="119.9" fill="none" stroke="#000" stroke-width="1.6"/>
<line x1="278.96" y1="324.7" x2="278.96" y2="322.7" stroke="#000" stroke-width="1.0" />
<line x1="292.6" y1="324.7" x2="292.6" y2="322.7" stroke="#000" stroke-width="1.0" />
<line x1="306.24" y1="324.7" x2="306.24" y2="322.7" stroke="#000" stroke-width="1.0" />
<line x1="319.88" y1="324.7" x2="319.88" y2="322.7" stroke="#000" stroke-width="1.0" />
<line x1="333.52" y1="324.7" x2="333.52" y2="322.7" stroke="#000" stroke-width="1.0" />
<line x1="347.16" y1="324.7" x2="347.16" y2="322.7" stroke="#000" stroke-width="1.0" />
<line x1="360.8" y1="324.7" x2="360.8" y2="322.7" stroke="#000" stroke-width="1.0" />
<line x1="374.44" y1="324.7" x2="374.44" y2="322.7" stroke="#000" stroke-width="1.0" />
<line x1="388.08" y1="324.7" x2="388.08" y2="322.7" stroke="#000" stroke-width="1.0" />
<line x1="401.72" y1="324.7" x2="401.72" y2="322.7" stroke="#000" stroke-width="1.0" />
<line x1="415.36" y1="324.7" x2="415.36" y2="322.7" stroke="#000" stroke-width="1.0" />
<line x1="278.96" y1="204.8" x2="278.96" y2="206.8" stroke="#000" stroke-width="1.0" />
<line x1="292.6" y1="204.8" x2="292.6" y2="206.8" stroke="#000" stroke-width="1.0" />
<line x1="306.24" y1="204.8" x2="306.24" y2="206.8" stroke="#000" stroke-width="1.0" />
<line x1="319.88" y1="204.8" x2="319.88" y2="206.8" stroke="#000" stroke-width="1.0" />
<line x1="333.52" y1="204.8" x2="333.52" y2="206.8" stroke="#000" stroke-width="1.0" />
<line x1="347.16" y1="204.8" x2="347.16" y2="206.8" stroke="#000" stroke-width="1.0" />
<line x1="360.8" y1="204.8" x2="360.8" y2="206.8" stroke="#000" stroke-width="1.0" />
<line x1="374.44" y1="204.8" x2="374.44" y2="206.8" stroke="#000" stroke-width="1.0" />
<line x1="388.08" y1="204.8" x2="388.08" y2="206.8" stroke="#000" stroke-width="1.0" />
<line x1="401.72" y1="204.8" x2="401.72" y2="206.8" stroke="#000" stroke-width="1.0" />
<line x1="415.36" y1="204.8" x2="415.36" y2="206.8" stroke="#000" stroke-width="1.0" />
<line x1="266.3" y1="214.5" x2="268.3" y2="214.5" stroke="#000" stroke-width="1.0" />
<line x1="266.3" y1="239.5" x2="268.3" y2="239.5" stroke="#000" stroke-width="1.0" />
<line x1="266.3" y1="264.5" x2="268.3" y2="264.5" stroke="#000" stroke-width="1.0" />
<line x1="266.3" y1="289.5" x2="268.3" y2="289.5" stroke="#000" stroke-width="1.0" />
<line x1="266.3" y1="314.5" x2="268.3" y2="314.5" stroke="#000" stroke-width="1.0" />
<line x1="429.05" y1="214.5" x2="427.05" y2="214.5" stroke="#000" stroke-width="1.0" />
<line x1="429.05" y1="239.5" x2="427.05" y2="239.5" stroke="#000" stroke-width="1.0" />
<line x1="429.05" y1="264.5" x2="427.05" y2="264.5" stroke="#000" stroke-width="1.0" />
<line x1="429.05" y1="289.5" x2="427.05" y2="289.5" stroke="#000" stroke-width="1.0" />
<line x1="429.05" y1="314.5" x2="427.05" y2="314.5" stroke="#000" stroke-width="1.0" />
<text x="261.4" y="218.4" font-size="10" text-anchor="end" fill="#111" stroke="#111" stroke-width="0.2" font-weight="normal" >0.0</text>
<text x="261.4" y="268.4" font-size="10" text-anchor="end" fill="#111" stroke="#111" stroke-width="0.2" font-weight="normal" >– 0.5</text>
<text x="261.4" y="318.4" font-size="10" text-anchor="end" fill="#111" stroke="#111" stroke-width="0.2" font-weight="normal" >– 1.0</text>
<text x="265.32" y="339" font-size="10" text-anchor="middle" fill="#111" stroke="#111" stroke-width="0.2" font-weight="normal" >– 200</text>
<text x="292.6" y="339" font-size="10" text-anchor="middle" fill="#111" stroke="#111" stroke-width="0.2" font-weight="normal" >0</text>
<text x="319.88" y="339" font-size="10" text-anchor="middle" fill="#111" stroke="#111" stroke-width="0.2" font-weight="normal" >200</text>
<text x="347.16" y="339" font-size="10" text-anchor="middle" fill="#111" stroke="#111" stroke-width="0.2" font-weight="normal" >400</text>
<text x="374.44" y="339" font-size="10" text-anchor="middle" fill="#111" stroke="#111" stroke-width="0.2" font-weight="normal" >600</text>
<text x="401.72" y="339" font-size="10" text-anchor="middle" fill="#111" stroke="#111" stroke-width="0.2" font-weight="normal" >800</text>
<text x="429" y="339" font-size="10" text-anchor="middle" fill="#111" stroke="#111" stroke-width="0.2" font-weight="normal" >1000</text>
<text x="265.32" y="200" font-size="10" text-anchor="middle" fill="#111" stroke="#111" stroke-width="0.2" font-weight="normal" >– 10</text>
<text x="292.6" y="200" font-size="10" text-anchor="middle" fill="#111" stroke="#111" stroke-width="0.2" font-weight="normal" >0</text>
<text x="319.88" y="200" font-size="10" text-anchor="middle" fill="#111" stroke="#111" stroke-width="0.2" font-weight="normal" >10</text>
<text x="347.16" y="200" font-size="10" text-anchor="middle" fill="#111" stroke="#111" stroke-width="0.2" font-weight="normal" >20</text>
<text x="374.44" y="200" font-size="10" text-anchor="middle" fill="#111" stroke="#111" stroke-width="0.2" font-weight="normal" >30</text>
<text x="401.72" y="200" font-size="10" text-anchor="middle" fill="#111" stroke="#111" stroke-width="0.2" font-weight="normal" >40</text>
<text x="429" y="200" font-size="10" text-anchor="middle" fill="#111" stroke="#111" stroke-width="0.2" font-weight="normal" >50</text>
<text x="347" y="353.2" font-size="10" text-anchor="middle" fill="#111" stroke="#111" stroke-width="0.2" font-weight="normal" >Delay (ns)</text>
<text transform="translate(231,264) rotate(-90)" font-size="10" text-anchor="middle" fill="#111" stroke="#111" stroke-width="0.2">Normalized change</text>
<polygon points="341.6,276.64 339.6,280.24 343.6,280.24" fill="none" stroke="#444" stroke-width="0.7"/>
<text x="353" y="281.8" font-size="8.6" text-anchor="start" fill="#222" stroke="#222" stroke-width="0.2" font-weight="normal" ><tspan font-style="italic">T</tspan> = 121 K, CO</text>
<rect x="340" y="286.9" width="3.2" height="3.2" fill="none" stroke="#444" stroke-width="0.7"/>
<text x="353" y="291.5" font-size="8.6" text-anchor="start" fill="#222" stroke="#222" stroke-width="0.2" font-weight="normal" ><tspan font-style="italic">T</tspan> = 196 K, Lattice</text>
<circle cx="341.6" cy="298.2" r="2.3" fill="none" stroke="#e31e80" stroke-width="0.9"/>
<text x="353" y="301.2" font-size="8.6" text-anchor="start" fill="#e31e80" stroke="#e31e80" stroke-width="0.2" font-weight="normal" ><tspan font-style="italic">T</tspan> = 196 K, CO</text>
<text x="222.6" y="201.8" font-size="14" text-anchor="start" fill="#000" stroke="#000" stroke-width="0" font-weight="bold" >d</text>
<defs><radialGradient id="sph" cx="0.38" cy="0.35" r="0.65"><stop offset="0" stop-color="#b8b8ff"/><stop offset="0.35" stop-color="#3030e8"/><stop offset="1" stop-color="#0a0aa0"/></radialGradient></defs>
<clipPath id="cp5"><rect x="515.7" y="36.3" width="168.1" height="256.4"/></clipPath><g clip-path="url(#cp5)">
<line x1="666.2" y1="36.3" x2="666.2" y2="292.7" stroke="#8890a0" stroke-width="0.8" stroke-dasharray="1.2,1.2"/>
<rect x="608.75" y="272.25" width="3.9" height="3.9" fill="none" stroke="#444" stroke-width="0.8"/>
<rect x="630.95" y="272.25" width="3.9" height="3.9" fill="none" stroke="#444" stroke-width="0.8"/>
<rect x="642.45" y="272.25" width="3.9" height="3.9" fill="none" stroke="#444" stroke-width="0.8"/>
<rect x="650.85" y="272.25" width="3.9" height="3.9" fill="none" stroke="#444" stroke-width="0.8"/>
<rect x="655.05" y="272.25" width="3.9" height="3.9" fill="none" stroke="#444" stroke-width="0.8"/>
<rect x="659.35" y="272.25" width="3.9" height="3.9" fill="none" stroke="#444" stroke-width="0.8"/>
<rect x="674.85" y="272.25" width="3.9" height="3.9" fill="none" stroke="#444" stroke-width="0.8"/>
<path d="M516.5,273.2 C523.75,272.97 546.08,272.42 560,271.8 C573.92,271.18 590,270.37 600,269.5 C610,268.63 614.9,267.65 620,266.6 C625.1,265.55 627.02,264.63 630.6,263.2 C634.18,261.77 638.5,260.27 641.5,258 C644.5,255.73 646.55,252.8 648.6,249.6 C650.65,246.4 652.52,242.9 653.8,238.8 C655.08,234.7 655.67,230.13 656.3,225 C656.93,219.87 657.22,214.17 657.6,208 C657.98,201.83 658.27,194.67 658.6,188 C658.93,181.33 659.3,174.33 659.6,168 C659.9,161.67 660.18,157.17 660.4,150 C660.62,142.83 660.77,132 660.9,125 C661.03,118 661.12,113.83 661.2,108 C661.28,102.17 661.37,93 661.4,90" fill="none" stroke="#ee22ee" stroke-width="1.7" stroke-linejoin="round" stroke-linecap="round" />
<circle cx="518.3" cy="273.4" r="3.2" fill="none" stroke="#ee22ee" stroke-width="0.9"/>
<line x1="518.3" y1="271.4" x2="518.3" y2="275.4" stroke="#ee22ee" stroke-width="0.9" />
<line x1="516.5" y1="271.4" x2="520.1" y2="271.4" stroke="#ee22ee" stroke-width="0.9" />
<line x1="516.5" y1="275.4" x2="520.1" y2="275.4" stroke="#ee22ee" stroke-width="0.9" />
<circle cx="610.7" cy="269" r="3.2" fill="none" stroke="#ee22ee" stroke-width="0.9"/>
<line x1="610.7" y1="266.5" x2="610.7" y2="271.5" stroke="#ee22ee" stroke-width="0.9" />
<line x1="608.9" y1="266.5" x2="612.5" y2="266.5" stroke="#ee22ee" stroke-width="0.9" />
<line x1="608.9" y1="271.5" x2="612.5" y2="271.5" stroke="#ee22ee" stroke-width="0.9" />
<circle cx="628.3" cy="269.5" r="3.2" fill="none" stroke="#ee22ee" stroke-width="0.9"/>
<line x1="628.3" y1="267" x2="628.3" y2="272" stroke="#ee22ee" stroke-width="0.9" />
<line x1="626.5" y1="267" x2="630.1" y2="267" stroke="#ee22ee" stroke-width="0.9" />
<line x1="626.5" y1="272" x2="630.1" y2="272" stroke="#ee22ee" stroke-width="0.9" />
<circle cx="631.4" cy="267.5" r="3.2" fill="none" stroke="#ee22ee" stroke-width="0.9"/>
<line x1="631.4" y1="265" x2="631.4" y2="270" stroke="#ee22ee" stroke-width="0.9" />
<line x1="629.6" y1="265" x2="633.2" y2="265" stroke="#ee22ee" stroke-width="0.9" />
<line x1="629.6" y1="270" x2="633.2" y2="270" stroke="#ee22ee" stroke-width="0.9" />
<circle cx="635.2" cy="266" r="3.2" fill="none" stroke="#ee22ee" stroke-width="0.9"/>
<line x1="635.2" y1="263.5" x2="635.2" y2="268.5" stroke="#ee22ee" stroke-width="0.9" />
<line x1="633.4" y1="263.5" x2="637" y2="263.5" stroke="#ee22ee" stroke-width="0.9" />
<line x1="633.4" y1="268.5" x2="637" y2="268.5" stroke="#ee22ee" stroke-width="0.9" />
<circle cx="639" cy="264.5" r="3.2" fill="none" stroke="#ee22ee" stroke-width="0.9"/>
<line x1="639" y1="262" x2="639" y2="267" stroke="#ee22ee" stroke-width="0.9" />
<line x1="637.2" y1="262" x2="640.8" y2="262" stroke="#ee22ee" stroke-width="0.9" />
<line x1="637.2" y1="267" x2="640.8" y2="267" stroke="#ee22ee" stroke-width="0.9" />
<circle cx="641.3" cy="262.5" r="3.2" fill="none" stroke="#ee22ee" stroke-width="0.9"/>
<line x1="641.3" y1="260" x2="641.3" y2="265" stroke="#ee22ee" stroke-width="0.9" />
<line x1="639.5" y1="260" x2="643.1" y2="260" stroke="#ee22ee" stroke-width="0.9" />
<line x1="639.5" y1="265" x2="643.1" y2="265" stroke="#ee22ee" stroke-width="0.9" />
<circle cx="644.4" cy="262.2" r="3.2" fill="none" stroke="#ee22ee" stroke-width="0.9"/>
<line x1="644.4" y1="259.7" x2="644.4" y2="264.7" stroke="#ee22ee" stroke-width="0.9" />
<line x1="642.6" y1="259.7" x2="646.2" y2="259.7" stroke="#ee22ee" stroke-width="0.9" />
<line x1="642.6" y1="264.7" x2="646.2" y2="264.7" stroke="#ee22ee" stroke-width="0.9" />
<circle cx="646" cy="264.5" r="3.2" fill="none" stroke="#ee22ee" stroke-width="0.9"/>
<line x1="646" y1="262" x2="646" y2="267" stroke="#ee22ee" stroke-width="0.9" />
<line x1="644.2" y1="262" x2="647.8" y2="262" stroke="#ee22ee" stroke-width="0.9" />
<line x1="644.2" y1="267" x2="647.8" y2="267" stroke="#ee22ee" stroke-width="0.9" />
<circle cx="648.7" cy="249.6" r="3.2" fill="none" stroke="#ee22ee" stroke-width="0.9"/>
<line x1="648.7" y1="246.6" x2="648.7" y2="252.6" stroke="#ee22ee" stroke-width="0.9" />
<line x1="646.9" y1="246.6" x2="650.5" y2="246.6" stroke="#ee22ee" stroke-width="0.9" />
<line x1="646.9" y1="252.6" x2="650.5" y2="252.6" stroke="#ee22ee" stroke-width="0.9" />
<circle cx="654.4" cy="238.4" r="3.2" fill="none" stroke="#ee22ee" stroke-width="0.9"/>
<line x1="654.4" y1="235.4" x2="654.4" y2="241.4" stroke="#ee22ee" stroke-width="0.9" />
<line x1="652.6" y1="235.4" x2="656.2" y2="235.4" stroke="#ee22ee" stroke-width="0.9" />
<line x1="652.6" y1="241.4" x2="656.2" y2="241.4" stroke="#ee22ee" stroke-width="0.9" />
<circle cx="657.7" cy="177.9" r="3.2" fill="none" stroke="#ee22ee" stroke-width="0.9"/>
<line x1="657.7" y1="166.9" x2="657.7" y2="188.9" stroke="#ee22ee" stroke-width="0.9" />
<line x1="655.9" y1="166.9" x2="659.5" y2="166.9" stroke="#ee22ee" stroke-width="0.9" />
<line x1="655.9" y1="188.9" x2="659.5" y2="188.9" stroke="#ee22ee" stroke-width="0.9" />
<circle cx="661.3" cy="108.6" r="3.2" fill="none" stroke="#ee22ee" stroke-width="0.9"/>
<line x1="661.3" y1="89.1" x2="661.3" y2="128.1" stroke="#ee22ee" stroke-width="0.9" />
<line x1="659.5" y1="89.1" x2="663.1" y2="89.1" stroke="#ee22ee" stroke-width="0.9" />
<line x1="659.5" y1="128.1" x2="663.1" y2="128.1" stroke="#ee22ee" stroke-width="0.9" />
<circle cx="601.5" cy="273.6" r="3.6" fill="url(#sph)"/>
<circle cx="619.9" cy="273.6" r="3.6" fill="url(#sph)"/>
<circle cx="639" cy="272.1" r="3.6" fill="url(#sph)"/>
<circle cx="648.7" cy="269" r="3.6" fill="url(#sph)"/>
<circle cx="666.6" cy="270.6" r="3.6" fill="url(#sph)"/>
<line x1="657.8" y1="203.2" x2="657.8" y2="215.8" stroke="#1414c8" stroke-width="0.9" />
<line x1="656" y1="203.2" x2="659.6" y2="203.2" stroke="#1414c8" stroke-width="0.9" />
<line x1="656" y1="215.8" x2="659.6" y2="215.8" stroke="#1414c8" stroke-width="0.9" />
<circle cx="657.8" cy="209.5" r="3.6" fill="url(#sph)"/>
<line x1="663.5" y1="48.3" x2="663.5" y2="91.3" stroke="#1414c8" stroke-width="0.9" />
<line x1="661.7" y1="48.3" x2="665.3" y2="48.3" stroke="#1414c8" stroke-width="0.9" />
<line x1="661.7" y1="91.3" x2="665.3" y2="91.3" stroke="#1414c8" stroke-width="0.9" />
<circle cx="663.5" cy="69.8" r="3.6" fill="url(#sph)"/>
</g>
<rect x="515.7" y="36.3" width="168.1" height="256.4" fill="none" stroke="#000" stroke-width="1.6"/>
<line x1="515.7" y1="288.71" x2="518.1" y2="288.71" stroke="#000" stroke-width="1.1" />
<line x1="515.7" y1="285.06" x2="518.1" y2="285.06" stroke="#000" stroke-width="1.1" />
<line x1="515.7" y1="281.4" x2="518.1" y2="281.4" stroke="#000" stroke-width="1.1" />
<line x1="515.7" y1="277.75" x2="518.1" y2="277.75" stroke="#000" stroke-width="1.1" />
<line x1="515.7" y1="274.1" x2="520.5" y2="274.1" stroke="#000" stroke-width="1.0" />
<line x1="515.7" y1="270.45" x2="518.1" y2="270.45" stroke="#000" stroke-width="1.1" />
<line x1="515.7" y1="266.8" x2="518.1" y2="266.8" stroke="#000" stroke-width="1.1" />
<line x1="515.7" y1="263.14" x2="518.1" y2="263.14" stroke="#000" stroke-width="1.1" />
<line x1="515.7" y1="259.49" x2="518.1" y2="259.49" stroke="#000" stroke-width="1.1" />
<line x1="515.7" y1="255.84" x2="518.1" y2="255.84" stroke="#000" stroke-width="1.1" />
<line x1="515.7" y1="252.19" x2="518.1" y2="252.19" stroke="#000" stroke-width="1.1" />
<line x1="515.7" y1="248.54" x2="518.1" y2="248.54" stroke="#000" stroke-width="1.1" />
<line x1="515.7" y1="244.88" x2="518.1" y2="244.88" stroke="#000" stroke-width="1.1" />
<line x1="515.7" y1="241.23" x2="518.1" y2="241.23" stroke="#000" stroke-width="1.1" />
<line x1="515.7" y1="237.58" x2="520.5" y2="237.58" stroke="#000" stroke-width="1.0" />
<line x1="515.7" y1="233.93" x2="518.1" y2="233.93" stroke="#000" stroke-width="1.1" />
<line x1="515.7" y1="230.28" x2="518.1" y2="230.28" stroke="#000" stroke-width="1.1" />
<line x1="515.7" y1="226.62" x2="518.1" y2="226.62" stroke="#000" stroke-width="1.1" />
<line x1="515.7" y1="222.97" x2="518.1" y2="222.97" stroke="#000" stroke-width="1.1" />
<line x1="515.7" y1="219.32" x2="518.1" y2="219.32" stroke="#000" stroke-width="1.1" />
<line x1="515.7" y1="215.67" x2="518.1" y2="215.67" stroke="#000" stroke-width="1.1" />
<line x1="515.7" y1="212.02" x2="518.1" y2="212.02" stroke="#000" stroke-width="1.1" />
<line x1="515.7" y1="208.36" x2="518.1" y2="208.36" stroke="#000" stroke-width="1.1" />
<line x1="515.7" y1="204.71" x2="518.1" y2="204.71" stroke="#000" stroke-width="1.1" />
<line x1="515.7" y1="201.06" x2="520.5" y2="201.06" stroke="#000" stroke-width="1.0" />
<line x1="515.7" y1="197.41" x2="518.1" y2="197.41" stroke="#000" stroke-width="1.1" />
<line x1="515.7" y1="193.76" x2="518.1" y2="193.76" stroke="#000" stroke-width="1.1" />
<line x1="515.7" y1="190.1" x2="518.1" y2="190.1" stroke="#000" stroke-width="1.1" />
<line x1="515.7" y1="186.45" x2="518.1" y2="186.45" stroke="#000" stroke-width="1.1" />
<line x1="515.7" y1="182.8" x2="518.1" y2="182.8" stroke="#000" stroke-width="1.1" />
<line x1="515.7" y1="179.15" x2="518.1" y2="179.15" stroke="#000" stroke-width="1.1" />
<line x1="515.7" y1="175.5" x2="518.1" y2="175.5" stroke="#000" stroke-width="1.1" />
<line x1="515.7" y1="171.84" x2="518.1" y2="171.84" stroke="#000" stroke-width="1.1" />
<line x1="515.7" y1="168.19" x2="518.1" y2="168.19" stroke="#000" stroke-width="1.1" />
<line x1="515.7" y1="164.54" x2="520.5" y2="164.54" stroke="#000" stroke-width="1.0" />
<line x1="515.7" y1="160.89" x2="518.1" y2="160.89" stroke="#000" stroke-width="1.1" />
<line x1="515.7" y1="157.24" x2="518.1" y2="157.24" stroke="#000" stroke-width="1.1" />
<line x1="515.7" y1="153.58" x2="518.1" y2="153.58" stroke="#000" stroke-width="1.1" />
<line x1="515.7" y1="149.93" x2="518.1" y2="149.93" stroke="#000" stroke-width="1.1" />
<line x1="515.7" y1="146.28" x2="518.1" y2="146.28" stroke="#000" stroke-width="1.1" />
<line x1="515.7" y1="142.63" x2="518.1" y2="142.63" stroke="#000" stroke-width="1.1" />
<line x1="515.7" y1="138.98" x2="518.1" y2="138.98" stroke="#000" stroke-width="1.1" />
<line x1="515.7" y1="135.32" x2="518.1" y2="135.32" stroke="#000" stroke-width="1.1" />
<line x1="515.7" y1="131.67" x2="518.1" y2="131.67" stroke="#000" stroke-width="1.1" />
<line x1="515.7" y1="128.02" x2="520.5" y2="128.02" stroke="#000" stroke-width="1.0" />
<line x1="515.7" y1="124.37" x2="518.1" y2="124.37" stroke="#000" stroke-width="1.1" />
<line x1="515.7" y1="120.72" x2="518.1" y2="120.72" stroke="#000" stroke-width="1.1" />
<line x1="515.7" y1="117.06" x2="518.1" y2="117.06" stroke="#000" stroke-width="1.1" />
<line x1="515.7" y1="113.41" x2="518.1" y2="113.41" stroke="#000" stroke-width="1.1" />
<line x1="515.7" y1="109.76" x2="518.1" y2="109.76" stroke="#000" stroke-width="1.1" />
<line x1="515.7" y1="106.11" x2="518.1" y2="106.11" stroke="#000" stroke-width="1.1" />
<line x1="515.7" y1="102.46" x2="518.1" y2="102.46" stroke="#000" stroke-width="1.1" />
<line x1="515.7" y1="98.8" x2="518.1" y2="98.8" stroke="#000" stroke-width="1.1" />
<line x1="515.7" y1="95.15" x2="518.1" y2="95.15" stroke="#000" stroke-width="1.1" />
<line x1="515.7" y1="91.5" x2="520.5" y2="91.5" stroke="#000" stroke-width="1.0" />
<line x1="515.7" y1="87.85" x2="518.1" y2="87.85" stroke="#000" stroke-width="1.1" />
<line x1="515.7" y1="84.2" x2="518.1" y2="84.2" stroke="#000" stroke-width="1.1" />
<line x1="515.7" y1="80.54" x2="518.1" y2="80.54" stroke="#000" stroke-width="1.1" />
<line x1="515.7" y1="76.89" x2="518.1" y2="76.89" stroke="#000" stroke-width="1.1" />
<line x1="515.7" y1="73.24" x2="518.1" y2="73.24" stroke="#000" stroke-width="1.1" />
<line x1="515.7" y1="69.59" x2="518.1" y2="69.59" stroke="#000" stroke-width="1.1" />
<line x1="515.7" y1="65.94" x2="518.1" y2="65.94" stroke="#000" stroke-width="1.1" />
<line x1="515.7" y1="62.28" x2="518.1" y2="62.28" stroke="#000" stroke-width="1.1" />
<line x1="515.7" y1="58.63" x2="518.1" y2="58.63" stroke="#000" stroke-width="1.1" />
<line x1="515.7" y1="54.98" x2="520.5" y2="54.98" stroke="#000" stroke-width="1.0" />
<line x1="515.7" y1="51.33" x2="518.1" y2="51.33" stroke="#000" stroke-width="1.1" />
<line x1="515.7" y1="47.68" x2="518.1" y2="47.68" stroke="#000" stroke-width="1.1" />
<line x1="515.7" y1="44.02" x2="518.1" y2="44.02" stroke="#000" stroke-width="1.1" />
<line x1="515.7" y1="40.37" x2="518.1" y2="40.37" stroke="#000" stroke-width="1.1" />
<line x1="683.8" y1="274.1" x2="680.6" y2="274.1" stroke="#000" stroke-width="1.0" />
<line x1="683.8" y1="237.58" x2="680.6" y2="237.58" stroke="#000" stroke-width="1.0" />
<line x1="683.8" y1="201.06" x2="680.6" y2="201.06" stroke="#000" stroke-width="1.0" />
<line x1="683.8" y1="164.54" x2="680.6" y2="164.54" stroke="#000" stroke-width="1.0" />
<line x1="683.8" y1="128.02" x2="680.6" y2="128.02" stroke="#000" stroke-width="1.0" />
<line x1="683.8" y1="91.5" x2="680.6" y2="91.5" stroke="#000" stroke-width="1.0" />
<line x1="683.8" y1="54.98" x2="680.6" y2="54.98" stroke="#000" stroke-width="1.0" />
<line x1="553.03" y1="292.7" x2="553.03" y2="288.3" stroke="#000" stroke-width="1.0" />
<line x1="590.37" y1="292.7" x2="590.37" y2="288.3" stroke="#000" stroke-width="1.0" />
<line x1="627.7" y1="292.7" x2="627.7" y2="288.3" stroke="#000" stroke-width="1.0" />
<line x1="665.04" y1="292.7" x2="665.04" y2="288.3" stroke="#000" stroke-width="1.0" />
<line x1="553.03" y1="36.3" x2="553.03" y2="39.9" stroke="#000" stroke-width="1.0" />
<line x1="590.37" y1="36.3" x2="590.37" y2="39.9" stroke="#000" stroke-width="1.0" />
<line x1="627.7" y1="36.3" x2="627.7" y2="39.9" stroke="#000" stroke-width="1.0" />
<line x1="665.04" y1="36.3" x2="665.04" y2="39.9" stroke="#000" stroke-width="1.0" />
<text x="509.2" y="278.1" font-size="10" text-anchor="end" fill="#111" stroke="#111" stroke-width="0.2" font-weight="normal" >0</text>
<text x="509.2" y="241.58" font-size="10" text-anchor="end" fill="#111" stroke="#111" stroke-width="0.2" font-weight="normal" >100</text>
<text x="509.2" y="205.06" font-size="10" text-anchor="end" fill="#111" stroke="#111" stroke-width="0.2" font-weight="normal" >200</text>
<text x="509.2" y="168.54" font-size="10" text-anchor="end" fill="#111" stroke="#111" stroke-width="0.2" font-weight="normal" >300</text>
<text x="509.2" y="132.02" font-size="10" text-anchor="end" fill="#111" stroke="#111" stroke-width="0.2" font-weight="normal" >400</text>
<text x="509.2" y="95.5" font-size="10" text-anchor="end" fill="#111" stroke="#111" stroke-width="0.2" font-weight="normal" >500</text>
<text x="509.2" y="58.98" font-size="10" text-anchor="end" fill="#111" stroke="#111" stroke-width="0.2" font-weight="normal" >600</text>
<text x="515.7" y="307.3" font-size="10" text-anchor="middle" fill="#111" stroke="#111" stroke-width="0.2" font-weight="normal" >120</text>
<text x="553.03" y="307.3" font-size="10" text-anchor="middle" fill="#111" stroke="#111" stroke-width="0.2" font-weight="normal" >140</text>
<text x="590.37" y="307.3" font-size="10" text-anchor="middle" fill="#111" stroke="#111" stroke-width="0.2" font-weight="normal" >160</text>
<text x="627.7" y="307.3" font-size="10" text-anchor="middle" fill="#111" stroke="#111" stroke-width="0.2" font-weight="normal" >180</text>
<text x="665.04" y="307.3" font-size="10" text-anchor="middle" fill="#111" stroke="#111" stroke-width="0.2" font-weight="normal" >200</text>
<text x="553.03" y="31.5" font-size="10" text-anchor="middle" fill="#111" stroke="#111" stroke-width="0.2" font-weight="normal" >– 60</text>
<text x="590.37" y="31.5" font-size="10" text-anchor="middle" fill="#111" stroke="#111" stroke-width="0.2" font-weight="normal" >– 40</text>
<text x="627.7" y="31.5" font-size="10" text-anchor="middle" fill="#111" stroke="#111" stroke-width="0.2" font-weight="normal" >– 20</text>
<text x="665.04" y="31.5" font-size="10" text-anchor="middle" fill="#111" stroke="#111" stroke-width="0.2" font-weight="normal" >0</text>
<text x="594.1" y="325.7" font-size="10" text-anchor="middle" fill="#111" stroke="#111" stroke-width="0.2" font-weight="normal" >Temperature (K)</text>
<text transform="translate(477,164.8) rotate(-90)" font-size="10" text-anchor="middle" fill="#111" stroke="#111" stroke-width="0.2">Time constant (ns)</text>
<text x="582.6" y="13.8" font-size="10" text-anchor="start" fill="#111" stroke="#111" stroke-width="0.2" font-weight="normal" ><tspan font-style="italic">T</tspan>–<tspan font-style="italic">T</tspan><tspan font-size="6.6" dy="2.5">c</tspan><tspan dy="-2.5"> (K)</tspan></text>
<rect x="539.25" y="92.75" width="4.5" height="4.5" fill="none" stroke="#333" stroke-width="0.8"/>
<text x="557.2" y="98.6" font-size="10" text-anchor="start" fill="#222" stroke="#222" stroke-width="0.2" font-weight="normal" >Lattice</text>
<circle cx="541.3" cy="114.5" r="3.3" fill="none" stroke="#ee22ee" stroke-width="0.9"/>
<text x="557.2" y="118.1" font-size="10" text-anchor="start" fill="#ee22ee" stroke="#ee22ee" stroke-width="0.2" font-weight="normal" >CO</text>
<line x1="529" y1="130.4" x2="553.4" y2="130.4" stroke="#ee22ee" stroke-width="2.4" />
<text x="557.2" y="134" font-size="10" text-anchor="start" fill="#ee22ee" stroke="#ee22ee" stroke-width="0.2" font-weight="normal" >Fit</text>
<circle cx="541.6" cy="147.3" r="3.6" fill="url(#sph)"/>
<text x="557.2" y="150.9" font-size="10" text-anchor="start" fill="#2020c0" stroke="#2020c0" stroke-width="0.2" font-weight="normal" >Optical</text>
<text x="469" y="10.8" font-size="14" text-anchor="start" fill="#000" stroke="#000" stroke-width="0" font-weight="bold" >e</text>
</svg>
</body></html>
